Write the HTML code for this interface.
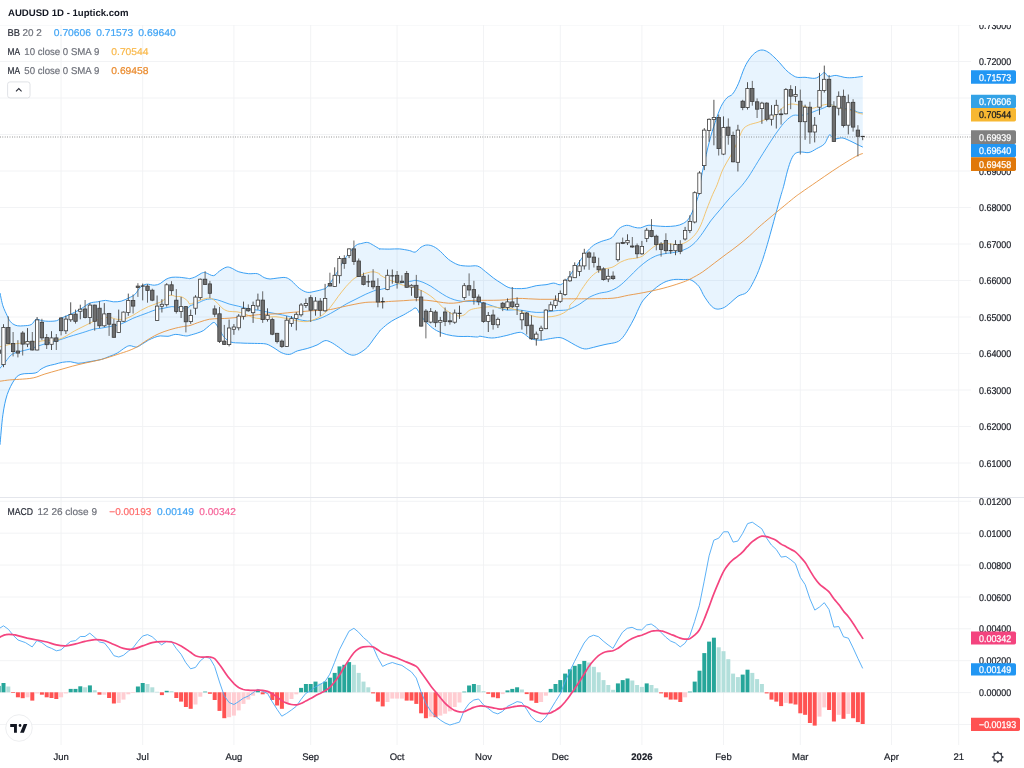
<!DOCTYPE html>
<html><head><meta charset="utf-8"><title>AUDUSD 1D - 1uptick.com</title>
<style>html,body{margin:0;padding:0;background:#fff;width:1024px;height:768px;overflow:hidden}svg{display:block}</style></head>
<body>
<svg width="1024" height="768" viewBox="0 0 1024 768" font-family='"Liberation Sans", "DejaVu Sans", sans-serif' font-size="9.8" text-rendering="geometricPrecision">
<rect width="1024" height="768" fill="#fff"/>
<g stroke="#f1f2f4" stroke-width="0.9" fill="none">
<line x1="61.1" y1="25" x2="61.1" y2="745"/>
<line x1="142.7" y1="25" x2="142.7" y2="745"/>
<line x1="233.9" y1="25" x2="233.9" y2="745"/>
<line x1="310.7" y1="25" x2="310.7" y2="745"/>
<line x1="397.1" y1="25" x2="397.1" y2="745"/>
<line x1="483.5" y1="25" x2="483.5" y2="745"/>
<line x1="560.3" y1="25" x2="560.3" y2="745"/>
<line x1="641.9" y1="25" x2="641.9" y2="745"/>
<line x1="723.5" y1="25" x2="723.5" y2="745"/>
<line x1="800.3" y1="25" x2="800.3" y2="745"/>
<line x1="891.5" y1="25" x2="891.5" y2="745"/>
<line x1="958.7" y1="25" x2="958.7" y2="745"/>
<line x1="0" y1="463.0" x2="971" y2="463.0"/>
<line x1="0" y1="426.5" x2="971" y2="426.5"/>
<line x1="0" y1="390.0" x2="971" y2="390.0"/>
<line x1="0" y1="353.5" x2="971" y2="353.5"/>
<line x1="0" y1="317.0" x2="971" y2="317.0"/>
<line x1="0" y1="280.5" x2="971" y2="280.5"/>
<line x1="0" y1="244.0" x2="971" y2="244.0"/>
<line x1="0" y1="207.5" x2="971" y2="207.5"/>
<line x1="0" y1="171.0" x2="971" y2="171.0"/>
<line x1="0" y1="134.5" x2="971" y2="134.5"/>
<line x1="0" y1="98.0" x2="971" y2="98.0"/>
<line x1="0" y1="61.5" x2="971" y2="61.5"/>
<line x1="0" y1="25.0" x2="971" y2="25.0"/>
<line x1="0" y1="724.5" x2="971" y2="724.5"/>
<line x1="0" y1="692.6" x2="971" y2="692.6"/>
<line x1="0" y1="660.7" x2="971" y2="660.7"/>
<line x1="0" y1="628.8" x2="971" y2="628.8"/>
<line x1="0" y1="597.0" x2="971" y2="597.0"/>
<line x1="0" y1="565.1" x2="971" y2="565.1"/>
<line x1="0" y1="533.2" x2="971" y2="533.2"/>
<line x1="0" y1="501.3" x2="971" y2="501.3"/>
</g>
<clipPath id="mp"><rect x="0" y="25" width="971" height="472"/></clipPath>
<clipPath id="sp"><rect x="0" y="498" width="971" height="247"/></clipPath>
<g clip-path="url(#mp)">
<path d="M0.0,293.0 C0.5,295.1 1.7,302.0 2.9,305.8 C4.1,309.6 6.2,313.5 7.2,315.8 C8.2,318.1 7.9,318.0 8.8,319.3 C9.7,320.7 11.2,322.8 12.7,323.8 C14.2,324.9 15.8,325.5 17.6,325.8 C19.4,326.1 21.2,326.0 23.4,325.8 C25.7,325.6 29.1,325.7 31.2,324.6 C33.4,323.5 34.3,320.0 36.1,319.3 C37.9,318.7 39.9,320.4 42.0,320.7 C44.1,321.0 46.4,321.3 48.8,321.3 C51.3,321.3 54.7,321.2 56.6,320.7 C58.6,320.2 58.9,319.1 60.5,318.4 C62.2,317.6 64.1,317.0 66.4,316.0 C68.7,315.0 71.6,313.8 74.2,312.5 C76.8,311.2 79.4,309.8 82.0,308.2 C84.6,306.6 87.2,304.2 89.8,303.1 C92.4,302.1 95.1,302.2 97.7,301.8 C100.3,301.3 102.9,300.4 105.5,300.4 C108.1,300.4 110.7,301.6 113.3,301.8 C115.9,301.9 118.5,301.8 121.1,301.2 C123.7,300.5 126.6,299.0 128.9,297.9 C131.2,296.7 132.8,296.3 134.8,294.5 C136.7,292.7 138.7,288.8 140.6,287.1 C142.6,285.4 144.2,284.5 146.5,284.2 C148.8,283.9 152.0,285.3 154.3,285.2 C156.6,285.1 158.2,284.6 160.2,283.6 C162.1,282.6 164.1,280.3 166.0,279.3 C168.0,278.3 169.6,277.7 171.9,277.3 C174.2,277.0 177.1,277.2 179.7,277.3 C182.3,277.5 185.8,278.1 187.5,278.3 C189.2,278.5 188.6,278.9 190.0,278.6 C191.4,278.3 193.9,277.6 195.9,276.6 C197.8,275.7 200.1,273.8 201.7,273.1 C203.3,272.5 203.7,272.3 205.6,272.7 C207.6,273.2 211.2,275.9 213.4,275.7 C215.7,275.4 217.2,272.6 219.3,271.2 C221.4,269.8 224.2,267.8 226.1,267.3 C228.1,266.7 228.9,267.1 231.0,267.9 C233.1,268.6 235.9,270.8 238.8,271.8 C241.8,272.7 245.5,273.4 248.6,273.7 C251.7,274.0 254.8,273.1 257.4,273.7 C260.0,274.4 262.1,276.7 264.2,277.6 C266.3,278.5 267.8,278.9 270.1,279.0 C272.4,279.0 275.3,278.2 277.9,278.0 C280.5,277.8 283.4,277.1 285.7,277.6 C288.0,278.1 289.3,279.1 291.6,280.9 C293.8,282.7 296.8,286.5 299.4,288.4 C302.0,290.2 304.6,291.8 307.2,292.3 C309.8,292.8 312.4,291.8 315.0,291.3 C317.6,290.8 320.9,290.0 322.8,289.3 C324.8,288.7 324.8,289.5 326.7,287.4 C328.7,285.3 331.9,280.7 334.5,276.6 C337.1,272.6 340.1,266.7 342.3,263.0 C344.6,259.2 345.9,257.1 348.2,254.2 C350.5,251.2 353.7,247.2 356.0,245.4 C358.3,243.6 359.9,243.9 361.9,243.4 C363.8,242.9 365.8,242.1 367.7,242.5 C369.7,242.8 371.6,244.3 373.6,245.4 C375.5,246.5 378.4,248.3 379.5,248.9 C380.5,249.5 378.3,248.9 380.0,248.9 C381.7,249.0 386.5,249.1 389.8,249.1 C393.0,249.1 396.3,248.7 399.5,248.9 C402.8,249.2 406.7,250.0 409.3,250.5 C411.9,251.0 413.2,252.6 415.2,252.1 C417.1,251.5 419.1,248.4 421.0,247.2 C423.0,246.0 424.8,245.1 426.9,245.0 C429.0,244.9 431.4,245.5 433.7,246.6 C436.0,247.7 438.1,249.4 440.5,251.5 C443.0,253.6 445.4,257.1 448.4,259.3 C451.3,261.5 454.9,263.6 458.1,264.8 C461.4,265.9 464.6,265.9 467.9,266.1 C471.1,266.4 474.7,265.2 477.7,266.1 C480.6,267.0 482.9,269.6 485.5,271.6 C488.1,273.6 490.7,275.9 493.3,277.9 C495.9,279.8 498.5,281.5 501.1,283.1 C503.7,284.8 506.3,286.7 508.9,287.6 C511.5,288.5 513.8,288.5 516.7,288.6 C519.6,288.7 523.2,288.7 526.5,288.2 C529.7,287.7 533.0,286.2 536.2,285.7 C539.5,285.1 543.1,285.1 546.0,284.7 C548.9,284.3 551.4,283.1 553.8,283.1 C556.3,283.1 558.4,285.4 560.7,284.7 C562.9,284.0 565.9,280.4 567.5,278.8 C569.1,277.3 568.3,277.8 570.0,275.3 C571.7,272.8 575.2,267.7 577.8,264.0 C580.4,260.3 583.0,256.3 585.6,253.2 C588.2,250.1 590.8,247.4 593.4,245.4 C596.0,243.5 598.2,242.8 601.2,241.5 C604.3,240.2 609.1,239.7 612.0,237.6 C614.9,235.5 616.4,230.9 618.8,228.8 C621.3,226.8 624.0,225.6 626.6,225.3 C629.2,225.1 632.2,226.8 634.5,227.3 C636.7,227.7 638.0,228.2 640.3,227.9 C642.6,227.5 645.5,225.6 648.1,225.3 C650.7,225.0 653.0,225.7 655.9,225.9 C658.9,226.1 662.4,226.5 665.7,226.5 C669.0,226.5 672.5,226.4 675.5,225.9 C678.4,225.4 681.0,224.7 683.3,223.4 C685.6,222.1 687.2,221.1 689.1,218.1 C691.1,215.1 693.4,209.5 695.0,205.4 C696.6,201.3 698.2,196.8 698.9,193.7 C699.7,190.6 698.8,191.1 699.5,186.7 C700.3,182.3 701.8,174.7 703.4,167.2 C705.1,159.7 707.3,149.3 709.3,141.8 C711.2,134.3 713.2,128.1 715.2,122.3 C717.1,116.4 719.1,110.7 721.0,106.6 C723.0,102.6 724.9,100.0 726.9,97.9 C728.8,95.7 730.8,96.4 732.7,93.9 C734.7,91.5 736.6,87.6 738.6,83.2 C740.5,78.8 742.5,71.8 744.5,67.6 C746.4,63.3 748.4,60.4 750.3,57.8 C752.3,55.2 754.2,53.3 756.2,52.0 C758.1,50.7 760.1,50.0 762.0,50.0 C764.0,50.0 765.9,50.8 767.9,52.0 C769.8,53.1 771.8,55.0 773.8,56.8 C775.7,58.6 777.7,60.6 779.6,62.7 C781.6,64.8 783.5,67.6 785.5,69.5 C787.4,71.5 789.4,73.1 791.3,74.4 C793.3,75.7 794.9,76.9 797.2,77.3 C799.5,77.8 802.1,77.2 805.0,77.3 C807.9,77.5 812.2,78.6 814.8,78.3 C817.4,78.0 819.0,76.4 820.6,75.4 C822.3,74.4 823.2,72.3 824.5,72.5 C825.8,72.6 826.5,75.9 828.4,76.4 C830.4,76.9 833.6,75.2 836.2,75.4 C838.9,75.6 841.5,77.0 844.1,77.3 C846.7,77.7 848.8,77.9 851.9,77.7 C855.0,77.6 861.0,76.6 862.8,76.4 L862.8,147.1 L857.7,144.7 L849.9,140.8 L842.1,137.9 L834.3,138.9 L829.4,135.0 L824.5,143.8 L816.7,148.6 L808.9,152.5 L801.1,152.0 L795.2,153.5 L791.3,159.4 L787.4,171.1 L783.5,186.7 L779.6,200.0 L767.3,244.5 L760.4,265.9 L753.6,281.6 L746.8,292.3 L738.0,296.2 L730.2,303.0 L722.3,308.3 L713.6,307.9 L704.8,297.2 L698.9,286.4 L691.1,280.0 L683.3,279.6 L673.5,279.6 L663.8,282.5 L654.0,289.4 L644.2,299.1 L640.2,305.4 L634.3,318.1 L628.4,328.8 L622.6,337.6 L616.7,342.1 L605.0,344.5 L593.3,347.4 L584.5,348.9 L575.7,345.4 L567.9,340.9 L560.1,337.6 L550.3,338.6 L540.5,340.2 L530.8,338.6 L523.0,333.1 L517.1,332.7 L503.4,336.2 L491.7,338.0 L480.0,336.2 L477.7,337.0 L467.9,336.4 L458.1,336.4 L446.4,334.5 L436.6,330.6 L428.8,324.7 L421.0,315.9 L416.1,308.1 L411.2,310.5 L403.4,315.0 L395.6,318.9 L387.8,323.8 L380.0,330.6 L379.5,331.3 L373.6,339.1 L367.7,347.0 L359.9,352.8 L353.1,355.2 L346.2,352.8 L338.4,347.0 L330.6,342.1 L324.8,340.7 L317.0,345.0 L307.2,348.5 L297.4,350.9 L289.6,354.4 L281.8,352.8 L274.0,347.9 L266.2,344.0 L254.5,343.4 L240.8,343.0 L231.0,342.1 L224.2,337.2 L219.3,329.4 L214.4,322.5 L209.5,325.5 L203.7,330.4 L197.8,332.9 L190.0,335.2 L185.5,335.9 L175.8,334.4 L168.0,336.3 L160.2,335.9 L154.3,337.5 L148.4,340.2 L142.6,343.8 L136.7,347.1 L129.9,345.7 L125.0,347.7 L117.2,353.1 L109.4,356.4 L101.6,359.4 L93.8,360.9 L85.9,362.3 L78.1,363.3 L70.3,361.7 L62.5,362.3 L54.7,364.3 L46.9,366.2 L41.0,369.1 L35.2,373.0 L21.0,374.3 L14.3,380.0 L7.2,394.6 L2.9,414.7 L0.0,444.8 Z" fill="#2196f3" fill-opacity="0.1" stroke="none"/>
<path d="M0.0,293.0 C0.5,295.1 1.7,302.0 2.9,305.8 C4.1,309.6 6.2,313.5 7.2,315.8 C8.2,318.1 7.9,318.0 8.8,319.3 C9.7,320.7 11.2,322.8 12.7,323.8 C14.2,324.9 15.8,325.5 17.6,325.8 C19.4,326.1 21.2,326.0 23.4,325.8 C25.7,325.6 29.1,325.7 31.2,324.6 C33.4,323.5 34.3,320.0 36.1,319.3 C37.9,318.7 39.9,320.4 42.0,320.7 C44.1,321.0 46.4,321.3 48.8,321.3 C51.3,321.3 54.7,321.2 56.6,320.7 C58.6,320.2 58.9,319.1 60.5,318.4 C62.2,317.6 64.1,317.0 66.4,316.0 C68.7,315.0 71.6,313.8 74.2,312.5 C76.8,311.2 79.4,309.8 82.0,308.2 C84.6,306.6 87.2,304.2 89.8,303.1 C92.4,302.1 95.1,302.2 97.7,301.8 C100.3,301.3 102.9,300.4 105.5,300.4 C108.1,300.4 110.7,301.6 113.3,301.8 C115.9,301.9 118.5,301.8 121.1,301.2 C123.7,300.5 126.6,299.0 128.9,297.9 C131.2,296.7 132.8,296.3 134.8,294.5 C136.7,292.7 138.7,288.8 140.6,287.1 C142.6,285.4 144.2,284.5 146.5,284.2 C148.8,283.9 152.0,285.3 154.3,285.2 C156.6,285.1 158.2,284.6 160.2,283.6 C162.1,282.6 164.1,280.3 166.0,279.3 C168.0,278.3 169.6,277.7 171.9,277.3 C174.2,277.0 177.1,277.2 179.7,277.3 C182.3,277.5 185.8,278.1 187.5,278.3 C189.2,278.5 188.6,278.9 190.0,278.6 C191.4,278.3 193.9,277.6 195.9,276.6 C197.8,275.7 200.1,273.8 201.7,273.1 C203.3,272.5 203.7,272.3 205.6,272.7 C207.6,273.2 211.2,275.9 213.4,275.7 C215.7,275.4 217.2,272.6 219.3,271.2 C221.4,269.8 224.2,267.8 226.1,267.3 C228.1,266.7 228.9,267.1 231.0,267.9 C233.1,268.6 235.9,270.8 238.8,271.8 C241.8,272.7 245.5,273.4 248.6,273.7 C251.7,274.0 254.8,273.1 257.4,273.7 C260.0,274.4 262.1,276.7 264.2,277.6 C266.3,278.5 267.8,278.9 270.1,279.0 C272.4,279.0 275.3,278.2 277.9,278.0 C280.5,277.8 283.4,277.1 285.7,277.6 C288.0,278.1 289.3,279.1 291.6,280.9 C293.8,282.7 296.8,286.5 299.4,288.4 C302.0,290.2 304.6,291.8 307.2,292.3 C309.8,292.8 312.4,291.8 315.0,291.3 C317.6,290.8 320.9,290.0 322.8,289.3 C324.8,288.7 324.8,289.5 326.7,287.4 C328.7,285.3 331.9,280.7 334.5,276.6 C337.1,272.6 340.1,266.7 342.3,263.0 C344.6,259.2 345.9,257.1 348.2,254.2 C350.5,251.2 353.7,247.2 356.0,245.4 C358.3,243.6 359.9,243.9 361.9,243.4 C363.8,242.9 365.8,242.1 367.7,242.5 C369.7,242.8 371.6,244.3 373.6,245.4 C375.5,246.5 378.4,248.3 379.5,248.9 C380.5,249.5 378.3,248.9 380.0,248.9 C381.7,249.0 386.5,249.1 389.8,249.1 C393.0,249.1 396.3,248.7 399.5,248.9 C402.8,249.2 406.7,250.0 409.3,250.5 C411.9,251.0 413.2,252.6 415.2,252.1 C417.1,251.5 419.1,248.4 421.0,247.2 C423.0,246.0 424.8,245.1 426.9,245.0 C429.0,244.9 431.4,245.5 433.7,246.6 C436.0,247.7 438.1,249.4 440.5,251.5 C443.0,253.6 445.4,257.1 448.4,259.3 C451.3,261.5 454.9,263.6 458.1,264.8 C461.4,265.9 464.6,265.9 467.9,266.1 C471.1,266.4 474.7,265.2 477.7,266.1 C480.6,267.0 482.9,269.6 485.5,271.6 C488.1,273.6 490.7,275.9 493.3,277.9 C495.9,279.8 498.5,281.5 501.1,283.1 C503.7,284.8 506.3,286.7 508.9,287.6 C511.5,288.5 513.8,288.5 516.7,288.6 C519.6,288.7 523.2,288.7 526.5,288.2 C529.7,287.7 533.0,286.2 536.2,285.7 C539.5,285.1 543.1,285.1 546.0,284.7 C548.9,284.3 551.4,283.1 553.8,283.1 C556.3,283.1 558.4,285.4 560.7,284.7 C562.9,284.0 565.9,280.4 567.5,278.8 C569.1,277.3 568.3,277.8 570.0,275.3 C571.7,272.8 575.2,267.7 577.8,264.0 C580.4,260.3 583.0,256.3 585.6,253.2 C588.2,250.1 590.8,247.4 593.4,245.4 C596.0,243.5 598.2,242.8 601.2,241.5 C604.3,240.2 609.1,239.7 612.0,237.6 C614.9,235.5 616.4,230.9 618.8,228.8 C621.3,226.8 624.0,225.6 626.6,225.3 C629.2,225.1 632.2,226.8 634.5,227.3 C636.7,227.7 638.0,228.2 640.3,227.9 C642.6,227.5 645.5,225.6 648.1,225.3 C650.7,225.0 653.0,225.7 655.9,225.9 C658.9,226.1 662.4,226.5 665.7,226.5 C669.0,226.5 672.5,226.4 675.5,225.9 C678.4,225.4 681.0,224.7 683.3,223.4 C685.6,222.1 687.2,221.1 689.1,218.1 C691.1,215.1 693.4,209.5 695.0,205.4 C696.6,201.3 698.2,196.8 698.9,193.7 C699.7,190.6 698.8,191.1 699.5,186.7 C700.3,182.3 701.8,174.7 703.4,167.2 C705.1,159.7 707.3,149.3 709.3,141.8 C711.2,134.3 713.2,128.1 715.2,122.3 C717.1,116.4 719.1,110.7 721.0,106.6 C723.0,102.6 724.9,100.0 726.9,97.9 C728.8,95.7 730.8,96.4 732.7,93.9 C734.7,91.5 736.6,87.6 738.6,83.2 C740.5,78.8 742.5,71.8 744.5,67.6 C746.4,63.3 748.4,60.4 750.3,57.8 C752.3,55.2 754.2,53.3 756.2,52.0 C758.1,50.7 760.1,50.0 762.0,50.0 C764.0,50.0 765.9,50.8 767.9,52.0 C769.8,53.1 771.8,55.0 773.8,56.8 C775.7,58.6 777.7,60.6 779.6,62.7 C781.6,64.8 783.5,67.6 785.5,69.5 C787.4,71.5 789.4,73.1 791.3,74.4 C793.3,75.7 794.9,76.9 797.2,77.3 C799.5,77.8 802.1,77.2 805.0,77.3 C807.9,77.5 812.2,78.6 814.8,78.3 C817.4,78.0 819.0,76.4 820.6,75.4 C822.3,74.4 823.2,72.3 824.5,72.5 C825.8,72.6 826.5,75.9 828.4,76.4 C830.4,76.9 833.6,75.2 836.2,75.4 C838.9,75.6 841.5,77.0 844.1,77.3 C846.7,77.7 848.8,77.9 851.9,77.7 C855.0,77.6 861.0,76.6 862.8,76.4" fill="none" stroke="#3aa0f4" stroke-width="1"/>
<path d="M0.0,444.8 C0.5,439.8 1.7,423.1 2.9,414.7 C4.1,406.3 5.3,400.4 7.2,394.6 C9.1,388.8 12.0,383.4 14.3,380.0 C16.6,376.6 17.5,375.5 21.0,374.3 C24.5,373.1 31.8,373.9 35.2,373.0 C38.5,372.2 39.1,370.3 41.0,369.1 C43.0,368.0 44.6,367.0 46.9,366.2 C49.2,365.4 52.1,364.9 54.7,364.3 C57.3,363.6 59.9,362.7 62.5,362.3 C65.1,361.9 67.7,361.6 70.3,361.7 C72.9,361.9 75.5,363.2 78.1,363.3 C80.7,363.4 83.3,362.7 85.9,362.3 C88.5,361.9 91.1,361.4 93.8,360.9 C96.4,360.4 99.0,360.1 101.6,359.4 C104.2,358.6 106.8,357.5 109.4,356.4 C112.0,355.4 114.6,354.6 117.2,353.1 C119.8,351.7 122.9,348.9 125.0,347.7 C127.1,346.4 127.9,345.8 129.9,345.7 C131.8,345.6 134.6,347.4 136.7,347.1 C138.8,346.7 140.6,344.9 142.6,343.8 C144.5,342.6 146.5,341.3 148.4,340.2 C150.4,339.2 152.3,338.2 154.3,337.5 C156.2,336.8 157.9,336.1 160.2,335.9 C162.4,335.7 165.4,336.6 168.0,336.3 C170.6,336.1 172.9,334.4 175.8,334.4 C178.7,334.3 183.2,335.8 185.5,335.9 C187.9,336.1 188.0,335.7 190.0,335.2 C192.0,334.7 195.5,333.7 197.8,332.9 C200.1,332.1 201.7,331.6 203.7,330.4 C205.6,329.1 207.7,326.8 209.5,325.5 C211.3,324.2 212.8,321.9 214.4,322.5 C216.0,323.2 217.7,326.9 219.3,329.4 C220.9,331.8 222.2,335.1 224.2,337.2 C226.1,339.3 228.2,341.1 231.0,342.1 C233.8,343.0 236.9,342.8 240.8,343.0 C244.7,343.3 250.2,343.3 254.5,343.4 C258.7,343.6 262.9,343.3 266.2,344.0 C269.4,344.8 271.4,346.5 274.0,347.9 C276.6,349.4 279.2,351.7 281.8,352.8 C284.4,353.9 287.0,354.7 289.6,354.4 C292.2,354.0 294.5,351.8 297.4,350.9 C300.4,349.9 303.9,349.5 307.2,348.5 C310.4,347.5 314.0,346.3 317.0,345.0 C319.9,343.7 322.5,341.2 324.8,340.7 C327.0,340.2 328.3,341.0 330.6,342.1 C332.9,343.1 335.8,345.2 338.4,347.0 C341.0,348.7 343.8,351.4 346.2,352.8 C348.7,354.2 350.8,355.2 353.1,355.2 C355.4,355.2 357.5,354.2 359.9,352.8 C362.4,351.4 365.5,349.2 367.7,347.0 C370.0,344.7 371.6,341.7 373.6,339.1 C375.5,336.5 378.4,332.8 379.5,331.3 C380.5,329.9 378.6,331.8 380.0,330.6 C381.4,329.3 385.2,325.7 387.8,323.8 C390.4,321.8 393.0,320.3 395.6,318.9 C398.2,317.4 400.8,316.4 403.4,315.0 C406.0,313.6 409.1,311.6 411.2,310.5 C413.4,309.3 414.5,307.2 416.1,308.1 C417.8,309.0 418.9,313.2 421.0,315.9 C423.1,318.7 426.2,322.3 428.8,324.7 C431.4,327.2 433.7,329.0 436.6,330.6 C439.6,332.2 442.8,333.5 446.4,334.5 C450.0,335.5 454.5,336.1 458.1,336.4 C461.7,336.8 464.6,336.3 467.9,336.4 C471.1,336.5 475.6,337.1 477.7,337.0 C479.7,337.0 477.7,336.1 480.0,336.2 C482.3,336.4 487.8,338.0 491.7,338.0 C495.6,338.0 499.2,337.1 503.4,336.2 C507.7,335.4 513.9,333.3 517.1,332.7 C520.4,332.2 520.7,332.1 523.0,333.1 C525.2,334.1 527.9,337.4 530.8,338.6 C533.7,339.8 537.3,340.2 540.5,340.2 C543.8,340.2 547.1,339.0 550.3,338.6 C553.6,338.2 557.1,337.2 560.1,337.6 C563.0,338.0 565.3,339.6 567.9,340.9 C570.5,342.2 572.9,344.1 575.7,345.4 C578.5,346.8 581.6,348.6 584.5,348.9 C587.4,349.3 589.9,348.1 593.3,347.4 C596.7,346.6 601.1,345.3 605.0,344.5 C608.9,343.6 613.8,343.2 616.7,342.1 C619.6,341.0 620.6,339.8 622.6,337.6 C624.5,335.4 626.5,332.1 628.4,328.8 C630.4,325.6 632.3,322.0 634.3,318.1 C636.2,314.2 638.5,308.5 640.2,305.4 C641.8,302.2 641.9,301.8 644.2,299.1 C646.5,296.5 650.7,292.1 654.0,289.4 C657.2,286.6 660.5,284.2 663.8,282.5 C667.0,280.9 670.3,280.1 673.5,279.6 C676.8,279.1 680.4,279.5 683.3,279.6 C686.2,279.7 688.5,278.9 691.1,280.0 C693.7,281.1 696.6,283.6 698.9,286.4 C701.2,289.3 702.3,293.6 704.8,297.2 C707.2,300.8 710.6,306.1 713.6,307.9 C716.5,309.8 719.6,309.1 722.3,308.3 C725.1,307.5 727.6,305.1 730.2,303.0 C732.8,301.0 735.2,298.0 738.0,296.2 C740.7,294.4 744.2,294.7 746.8,292.3 C749.4,289.9 751.3,286.0 753.6,281.6 C755.9,277.2 758.2,272.1 760.4,265.9 C762.7,259.8 764.1,255.4 767.3,244.5 C770.5,233.5 776.9,209.6 779.6,200.0 C782.3,190.4 782.2,191.5 783.5,186.7 C784.8,181.9 786.1,175.7 787.4,171.1 C788.7,166.5 790.0,162.3 791.3,159.4 C792.6,156.4 793.6,154.8 795.2,153.5 C796.9,152.3 798.8,152.1 801.1,152.0 C803.4,151.8 806.3,153.1 808.9,152.5 C811.5,152.0 814.1,150.1 816.7,148.6 C819.3,147.2 822.4,146.0 824.5,143.8 C826.6,141.5 827.8,135.8 829.4,135.0 C831.0,134.1 832.2,138.4 834.3,138.9 C836.4,139.4 839.5,137.6 842.1,137.9 C844.7,138.2 847.3,139.7 849.9,140.8 C852.5,142.0 855.6,143.7 857.7,144.7 C859.9,145.8 862.0,146.7 862.8,147.1" fill="none" stroke="#3aa0f4" stroke-width="1"/>
<path d="M-2.0,370.1 C-1.6,369.8 -1.3,369.6 0.0,368.2 C1.3,366.7 3.9,363.6 5.9,361.3 C7.8,359.0 9.4,356.1 11.7,354.5 C14.0,352.9 16.6,352.4 19.5,351.6 C22.5,350.7 26.0,350.2 29.3,349.2 C32.6,348.2 35.8,346.8 39.1,345.7 C42.3,344.6 45.6,343.7 48.8,342.8 C52.1,341.9 55.3,341.2 58.6,340.2 C61.8,339.3 65.1,338.0 68.4,336.9 C71.6,335.9 75.2,334.9 78.1,334.0 C81.1,333.1 83.3,332.5 85.9,331.6 C88.5,330.8 91.1,329.7 93.8,329.1 C96.4,328.5 99.0,328.5 101.6,328.1 C104.2,327.7 106.8,327.1 109.4,326.6 C112.0,326.1 114.6,325.9 117.2,325.2 C119.8,324.5 122.4,323.4 125.0,322.3 C127.6,321.1 130.2,319.5 132.8,318.4 C135.4,317.2 138.0,316.4 140.6,315.4 C143.2,314.5 145.8,313.5 148.4,312.5 C151.0,311.5 153.6,310.3 156.2,309.6 C158.9,308.9 161.5,308.7 164.1,308.2 C166.7,307.7 169.3,306.7 171.9,306.6 C174.5,306.5 177.1,307.4 179.7,307.6 C182.3,307.9 185.8,308.5 187.5,308.2 C189.2,307.9 188.3,306.8 190.0,305.9 C191.7,305.1 195.2,304.0 197.8,303.0 C200.4,302.0 203.0,300.3 205.6,299.7 C208.2,299.0 210.8,298.9 213.4,299.1 C216.0,299.3 218.6,300.2 221.2,301.1 C223.9,301.9 226.1,303.1 229.1,304.0 C232.0,304.9 235.6,305.5 238.8,306.3 C242.1,307.1 245.3,308.2 248.6,308.9 C251.8,309.5 255.1,309.7 258.4,310.2 C261.6,310.8 264.9,311.5 268.1,312.2 C271.4,312.8 274.6,313.5 277.9,314.1 C281.1,314.8 284.4,315.2 287.7,316.1 C290.9,316.9 294.2,318.4 297.4,319.2 C300.7,320.0 304.3,320.8 307.2,321.0 C310.1,321.1 312.4,320.6 315.0,320.0 C317.6,319.4 320.2,318.4 322.8,317.3 C325.4,316.2 328.0,314.8 330.6,313.4 C333.2,312.0 335.8,310.4 338.4,308.9 C341.0,307.3 343.3,305.6 346.2,304.0 C349.2,302.4 352.8,300.7 356.0,299.1 C359.3,297.5 362.5,295.7 365.8,294.2 C369.0,292.8 373.2,291.1 375.5,290.3 C377.9,289.5 378.0,290.0 380.0,289.6 C382.0,289.1 385.2,288.4 387.8,287.6 C390.4,286.8 393.0,285.6 395.6,284.7 C398.2,283.8 400.8,282.9 403.4,282.3 C406.0,281.8 409.1,281.5 411.2,281.2 C413.4,280.8 414.2,280.2 416.1,280.4 C418.1,280.6 420.5,281.4 423.0,282.3 C425.4,283.3 428.2,284.7 430.8,286.2 C433.4,287.8 436.0,289.8 438.6,291.5 C441.2,293.2 443.8,295.0 446.4,296.4 C449.0,297.8 451.6,298.9 454.2,299.7 C456.8,300.5 459.1,301.0 462.0,301.3 C465.0,301.5 468.9,301.1 471.8,301.3 C474.7,301.5 477.0,301.8 479.6,302.3 C482.2,302.8 484.5,303.3 487.4,304.2 C490.4,305.1 493.9,306.6 497.2,307.5 C500.4,308.5 503.7,309.7 507.0,310.1 C510.2,310.4 513.5,309.5 516.7,309.7 C520.0,309.9 523.2,310.6 526.5,311.1 C529.7,311.5 533.0,312.3 536.2,312.4 C539.5,312.6 542.8,312.3 546.0,312.0 C549.3,311.7 552.5,311.0 555.8,310.7 C559.0,310.3 563.2,310.4 565.5,310.1 C567.9,309.8 567.6,309.9 570.0,308.9 C572.4,307.9 576.5,306.0 579.8,304.0 C583.0,302.1 586.3,299.0 589.5,297.2 C592.8,295.4 596.0,294.3 599.3,293.3 C602.6,292.3 605.8,292.5 609.1,291.3 C612.3,290.2 615.6,288.7 618.8,286.4 C622.1,284.2 625.3,280.7 628.6,277.7 C631.8,274.6 635.1,270.8 638.4,267.9 C641.6,265.0 644.9,262.2 648.1,260.1 C651.4,258.0 654.6,256.3 657.9,255.2 C661.1,254.1 664.4,253.8 667.7,253.2 C670.9,252.7 674.2,252.7 677.4,251.9 C680.7,251.1 684.3,249.9 687.2,248.4 C690.1,246.8 692.4,245.1 695.0,242.5 C697.6,239.9 700.2,236.3 702.8,232.7 C705.4,229.2 707.7,224.9 710.6,221.0 C713.6,217.1 717.1,213.2 720.4,209.3 C723.6,205.4 726.9,201.2 730.2,197.6 C733.4,194.0 736.9,191.2 739.9,187.8 C743.0,184.4 745.3,181.4 748.4,177.0 C751.4,172.5 754.9,166.5 758.1,161.3 C761.4,156.1 764.6,150.7 767.9,145.7 C771.1,140.7 774.7,135.1 777.7,131.1 C780.6,127.0 782.9,123.9 785.5,121.3 C788.1,118.7 790.7,116.4 793.3,115.4 C795.9,114.5 798.5,115.8 801.1,115.4 C803.7,115.1 806.3,114.3 808.9,113.5 C811.5,112.7 814.1,111.5 816.7,110.5 C819.3,109.6 822.3,108.6 824.5,107.6 C826.8,106.6 828.4,104.9 830.4,104.7 C832.3,104.5 834.0,106.0 836.2,106.6 C838.5,107.3 841.5,108.1 844.1,108.6 C846.7,109.1 849.6,109.0 851.9,109.6 C854.2,110.2 855.9,111.6 857.7,112.1 C859.6,112.7 862.0,112.8 862.8,112.9" fill="none" stroke="#3aa0f4" stroke-width="0.9"/>
<path d="M-2.0,347.1 C-1.6,347.0 -1.3,347.0 0.0,346.7 C1.3,346.4 3.9,345.7 5.9,345.3 C7.8,344.9 9.4,344.5 11.7,344.1 C14.0,343.8 16.9,343.7 19.5,343.4 C22.1,343.0 24.7,342.4 27.3,342.2 C29.9,341.9 32.6,342.0 35.2,341.8 C37.8,341.6 40.4,341.1 43.0,340.8 C45.6,340.6 48.2,340.5 50.8,340.2 C53.4,340.0 56.0,340.2 58.6,339.5 C61.2,338.7 63.8,337.3 66.4,335.9 C69.0,334.5 71.6,332.5 74.2,331.1 C76.8,329.6 79.8,328.3 82.0,327.1 C84.3,326.0 85.9,325.2 87.9,324.2 C89.8,323.2 91.5,322.3 93.8,321.3 C96.0,320.3 99.0,319.0 101.6,318.4 C104.2,317.7 106.8,317.2 109.4,317.4 C112.0,317.5 114.6,319.1 117.2,319.3 C119.8,319.6 122.4,319.4 125.0,318.8 C127.6,318.1 130.2,316.8 132.8,315.4 C135.4,314.1 138.0,312.0 140.6,310.5 C143.2,309.1 145.8,307.8 148.4,306.6 C151.0,305.5 154.0,304.6 156.2,303.7 C158.5,302.8 159.8,302.6 162.1,301.2 C164.4,299.8 167.6,296.1 169.9,295.3 C172.2,294.5 173.8,296.2 175.8,296.5 C177.7,296.7 179.7,296.2 181.6,296.9 C183.6,297.6 186.1,299.6 187.5,300.8 C188.9,302.0 188.3,303.9 190.0,304.0 C191.7,304.0 195.2,302.0 197.8,301.1 C200.4,300.1 203.3,298.9 205.6,298.5 C207.9,298.1 209.5,297.8 211.5,298.5 C213.4,299.3 215.4,301.3 217.3,303.0 C219.3,304.7 221.2,307.5 223.2,308.9 C225.2,310.3 226.8,310.9 229.1,311.4 C231.3,311.9 234.3,311.4 236.9,311.8 C239.5,312.2 242.1,312.8 244.7,313.8 C247.3,314.7 249.9,316.5 252.5,317.3 C255.1,318.1 257.7,318.6 260.3,318.6 C262.9,318.6 265.5,317.6 268.1,317.3 C270.7,316.9 273.3,316.5 275.9,316.7 C278.5,316.8 281.1,317.6 283.8,318.0 C286.4,318.5 289.0,319.1 291.6,319.6 C294.2,320.1 296.8,320.8 299.4,321.2 C302.0,321.5 304.6,321.9 307.2,321.6 C309.8,321.2 312.4,320.4 315.0,319.2 C317.6,318.1 320.2,316.8 322.8,314.7 C325.4,312.7 328.0,310.0 330.6,306.9 C333.2,303.8 335.8,299.6 338.4,296.2 C341.0,292.8 343.6,289.3 346.2,286.4 C348.9,283.5 351.5,280.5 354.1,278.6 C356.7,276.6 359.6,275.7 361.9,274.7 C364.2,273.7 365.8,273.2 367.7,272.7 C369.7,272.2 371.6,271.6 373.6,271.8 C375.5,271.9 378.4,273.2 379.5,273.7 C380.5,274.2 378.6,274.0 380.0,274.9 C381.4,275.8 385.2,278.0 387.8,279.2 C390.4,280.5 393.0,281.3 395.6,282.3 C398.2,283.4 400.8,284.6 403.4,285.3 C406.0,286.0 408.6,285.9 411.2,286.6 C413.9,287.4 416.5,288.4 419.1,289.6 C421.7,290.7 424.3,291.8 426.9,293.5 C429.5,295.1 432.1,297.1 434.7,299.3 C437.3,301.6 439.9,304.9 442.5,307.1 C445.1,309.4 447.7,311.5 450.3,313.0 C452.9,314.5 455.8,315.6 458.1,315.9 C460.4,316.3 462.0,315.9 464.0,315.0 C465.9,314.0 467.6,311.2 469.8,310.1 C472.1,308.9 475.1,308.6 477.7,308.1 C480.3,307.6 482.9,307.4 485.5,307.1 C488.1,306.9 490.7,306.6 493.3,306.8 C495.9,306.9 498.5,307.9 501.1,308.1 C503.7,308.4 506.3,307.8 508.9,308.1 C511.5,308.5 514.1,309.3 516.7,310.1 C519.3,310.9 521.9,312.0 524.5,313.0 C527.1,314.0 529.7,315.2 532.3,315.9 C534.9,316.7 537.6,317.1 540.2,317.3 C542.8,317.5 545.4,317.1 548.0,316.9 C550.6,316.7 553.2,316.6 555.8,315.9 C558.4,315.3 561.3,314.3 563.6,313.0 C565.9,311.7 568.4,309.5 569.5,308.1 C570.5,306.8 568.9,306.5 570.0,305.0 C571.1,303.5 573.9,301.7 575.9,299.1 C577.8,296.5 579.4,292.8 581.7,289.4 C584.0,286.0 586.9,281.6 589.5,278.6 C592.1,275.7 594.7,273.4 597.3,271.8 C599.9,270.2 602.6,269.7 605.2,268.9 C607.8,268.1 610.4,268.1 613.0,266.9 C615.6,265.8 618.2,263.3 620.8,262.0 C623.4,260.7 626.0,259.8 628.6,259.1 C631.2,258.5 634.1,258.6 636.4,258.1 C638.7,257.6 640.3,257.3 642.3,256.2 C644.2,255.0 645.8,253.1 648.1,251.3 C650.4,249.5 653.3,246.7 655.9,245.4 C658.5,244.1 661.1,243.7 663.8,243.5 C666.4,243.2 669.0,243.9 671.6,244.1 C674.2,244.2 676.8,244.9 679.4,244.5 C682.0,244.0 684.6,243.2 687.2,241.5 C689.8,239.9 692.7,237.5 695.0,234.7 C697.3,231.9 698.9,229.2 700.9,224.9 C702.8,220.7 704.8,214.3 706.7,209.3 C708.7,204.3 710.8,198.7 712.6,194.6 C714.3,190.6 715.4,189.0 717.1,184.8 C718.8,180.5 720.7,174.0 723.0,169.1 C725.2,164.3 728.5,159.7 730.8,155.5 C733.1,151.2 734.7,148.0 736.6,143.8 C738.6,139.5 740.5,133.2 742.5,130.1 C744.5,127.0 745.8,126.5 748.4,125.2 C751.0,123.9 755.2,123.2 758.1,122.3 C761.1,121.3 763.3,120.3 765.9,119.3 C768.5,118.4 771.1,118.2 773.8,116.4 C776.4,114.6 779.0,110.6 781.6,108.6 C784.2,106.6 786.8,104.9 789.4,104.3 C792.0,103.6 794.6,104.3 797.2,104.7 C799.8,105.1 802.4,106.1 805.0,106.6 C807.6,107.2 810.2,108.4 812.8,108.2 C815.4,108.0 818.0,106.3 820.6,105.7 C823.2,105.0 825.8,104.1 828.4,104.3 C831.0,104.5 833.6,105.8 836.2,106.6 C838.9,107.5 841.5,108.9 844.1,109.6 C846.7,110.2 849.6,110.0 851.9,110.5 C854.2,111.1 855.9,112.3 857.7,112.9 C859.6,113.5 862.0,113.9 862.8,114.1" fill="none" stroke="#f2c063" stroke-width="0.9"/>
<path d="M-2.0,381.4 C-1.6,381.4 -2.0,381.5 0.0,381.2 C2.0,381.0 6.5,380.2 9.8,379.9 C13.0,379.6 15.6,379.6 19.5,379.3 C23.4,379.0 29.0,378.8 33.2,377.9 C37.4,377.1 40.7,375.3 44.9,374.0 C49.2,372.7 54.0,371.4 58.6,370.1 C63.2,368.8 67.7,367.4 72.3,366.2 C76.8,365.0 81.1,364.0 85.9,362.9 C90.8,361.8 96.4,360.8 101.6,359.4 C106.8,358.0 112.6,356.0 117.2,354.5 C121.7,353.0 125.7,351.8 128.9,350.6 C132.2,349.3 134.1,348.5 136.7,347.1 C139.3,345.6 141.6,343.7 144.5,341.8 C147.5,339.9 151.0,337.6 154.3,335.9 C157.6,334.2 160.5,332.9 164.1,331.6 C167.6,330.3 172.2,329.0 175.8,328.1 C179.4,327.2 183.2,326.6 185.5,326.2 C187.9,325.7 187.6,326.2 190.0,325.5 C192.4,324.8 196.5,323.0 199.8,322.0 C203.0,320.9 206.3,319.8 209.5,319.2 C212.8,318.7 216.0,318.8 219.3,318.6 C222.6,318.5 225.8,318.5 229.1,318.2 C232.3,318.0 235.6,317.7 238.8,317.3 C242.1,316.8 245.3,316.1 248.6,315.7 C251.8,315.3 255.1,315.0 258.4,314.7 C261.6,314.5 264.9,314.3 268.1,314.1 C271.4,314.0 274.6,314.0 277.9,313.8 C281.1,313.5 284.1,313.1 287.7,312.8 C291.2,312.4 295.5,312.1 299.4,311.8 C303.3,311.5 307.2,311.1 311.1,310.8 C315.0,310.6 319.6,310.5 322.8,310.2 C326.1,310.0 327.4,310.0 330.6,309.5 C333.9,308.9 338.4,307.8 342.3,306.9 C346.2,306.1 350.2,305.1 354.1,304.4 C358.0,303.6 361.9,302.8 365.8,302.4 C369.7,302.0 375.1,302.1 377.5,302.0 C379.9,302.0 377.6,302.4 380.0,302.3 C382.4,302.1 387.8,301.5 391.7,301.3 C395.6,301.0 399.5,300.9 403.4,300.7 C407.3,300.5 411.2,300.0 415.2,299.9 C419.1,299.9 423.0,300.0 426.9,300.3 C430.8,300.6 435.0,301.4 438.6,301.9 C442.2,302.4 445.1,303.1 448.4,303.2 C451.6,303.4 454.9,303.1 458.1,302.7 C461.4,302.2 464.0,301.1 467.9,300.7 C471.8,300.3 477.3,300.4 481.6,300.3 C485.8,300.2 489.4,300.4 493.3,300.3 C497.2,300.2 501.1,300.2 505.0,299.9 C508.9,299.6 512.8,298.6 516.7,298.4 C520.6,298.2 524.5,298.6 528.4,298.8 C532.3,298.9 536.2,299.2 540.2,299.3 C544.1,299.4 548.0,299.4 551.9,299.3 C555.8,299.2 560.6,298.8 563.6,298.8 C566.6,298.7 565.7,298.8 570.0,298.8 C574.3,298.8 582.4,298.8 589.5,298.8 C596.7,298.7 606.5,298.8 613.0,298.2 C619.5,297.6 622.7,296.3 628.6,295.2 C634.5,294.2 641.6,293.1 648.1,291.7 C654.6,290.4 661.8,288.7 667.7,287.0 C673.5,285.4 679.4,283.4 683.3,282.0 C687.2,280.6 687.8,280.3 691.1,278.6 C694.3,276.9 698.9,274.4 702.8,271.8 C706.7,269.2 710.6,265.9 714.5,263.0 C718.4,260.1 722.3,257.1 726.2,254.2 C730.2,251.3 734.1,248.5 738.0,245.4 C741.9,242.3 745.8,239.1 749.7,235.7 C753.6,232.2 754.5,230.9 761.4,224.9 C768.3,219.0 784.7,205.4 791.3,200.0 C797.9,194.6 796.9,195.6 801.1,192.6 C805.3,189.6 811.5,185.4 816.7,181.8 C821.9,178.3 827.5,174.3 832.3,171.1 C837.2,167.8 841.8,164.9 846.0,162.3 C850.2,159.7 854.9,156.9 857.7,155.5 C860.5,154.0 862.0,153.8 862.8,153.5" fill="none" stroke="#e8933f" stroke-width="0.9"/>
<line x1="-1.3" y1="348.6" x2="-1.3" y2="354.5" stroke="#585858" stroke-width="0.9"/>
<rect x="-3.0" y="350.0" width="3.4" height="3.5" fill="#6e6e6e" stroke="#3c3c3c" stroke-width="0.8"/>
<line x1="3.5" y1="324.2" x2="3.5" y2="367.2" stroke="#404040" stroke-width="0.9"/>
<rect x="1.8" y="327.5" width="3.4" height="37.1" fill="#fff" stroke="#3c3c3c" stroke-width="0.8"/>
<line x1="8.3" y1="316.4" x2="8.3" y2="344.1" stroke="#585858" stroke-width="0.9"/>
<rect x="6.6" y="327.5" width="3.4" height="16.2" fill="#6e6e6e" stroke="#3c3c3c" stroke-width="0.8"/>
<line x1="13.1" y1="332.0" x2="13.1" y2="356.4" stroke="#585858" stroke-width="0.9"/>
<rect x="11.4" y="343.4" width="3.4" height="8.2" fill="#6e6e6e" stroke="#3c3c3c" stroke-width="0.8"/>
<line x1="17.9" y1="340.2" x2="17.9" y2="357.4" stroke="#585858" stroke-width="0.9"/>
<rect x="16.2" y="351.0" width="3.4" height="2.1" fill="#6e6e6e" stroke="#3c3c3c" stroke-width="0.8"/>
<line x1="22.7" y1="331.1" x2="22.7" y2="355.5" stroke="#585858" stroke-width="0.9"/>
<rect x="21.0" y="333.0" width="3.4" height="11.1" fill="#6e6e6e" stroke="#3c3c3c" stroke-width="0.8"/>
<line x1="27.5" y1="328.1" x2="27.5" y2="347.1" stroke="#404040" stroke-width="0.9"/>
<rect x="25.8" y="341.4" width="3.4" height="2.7" fill="#fff" stroke="#3c3c3c" stroke-width="0.8"/>
<line x1="32.3" y1="332.0" x2="32.3" y2="350.4" stroke="#585858" stroke-width="0.9"/>
<rect x="30.6" y="341.2" width="3.4" height="8.8" fill="#6e6e6e" stroke="#3c3c3c" stroke-width="0.8"/>
<line x1="37.1" y1="317.0" x2="37.1" y2="350.4" stroke="#404040" stroke-width="0.9"/>
<rect x="35.4" y="319.9" width="3.4" height="30.1" fill="#fff" stroke="#3c3c3c" stroke-width="0.8"/>
<line x1="41.9" y1="318.8" x2="41.9" y2="340.2" stroke="#585858" stroke-width="0.9"/>
<rect x="40.2" y="322.3" width="3.4" height="15.6" fill="#6e6e6e" stroke="#3c3c3c" stroke-width="0.8"/>
<line x1="46.7" y1="334.0" x2="46.7" y2="349.0" stroke="#585858" stroke-width="0.9"/>
<rect x="45.0" y="337.5" width="3.4" height="7.2" fill="#6e6e6e" stroke="#3c3c3c" stroke-width="0.8"/>
<line x1="51.5" y1="331.2" x2="51.5" y2="350.0" stroke="#404040" stroke-width="0.9"/>
<rect x="49.8" y="337.9" width="3.4" height="6.4" fill="#fff" stroke="#3c3c3c" stroke-width="0.8"/>
<line x1="56.3" y1="334.0" x2="56.3" y2="350.0" stroke="#585858" stroke-width="0.9"/>
<rect x="54.6" y="337.9" width="3.4" height="3.5" fill="#6e6e6e" stroke="#3c3c3c" stroke-width="0.8"/>
<line x1="61.1" y1="317.0" x2="61.1" y2="335.4" stroke="#585858" stroke-width="0.9"/>
<rect x="59.4" y="318.0" width="3.4" height="12.7" fill="#6e6e6e" stroke="#3c3c3c" stroke-width="0.8"/>
<line x1="65.9" y1="315.6" x2="65.9" y2="334.0" stroke="#404040" stroke-width="0.9"/>
<rect x="64.2" y="319.1" width="3.4" height="11.7" fill="#fff" stroke="#3c3c3c" stroke-width="0.8"/>
<line x1="70.7" y1="302.3" x2="70.7" y2="321.9" stroke="#404040" stroke-width="0.9"/>
<rect x="69.0" y="314.5" width="3.4" height="5.3" fill="#fff" stroke="#3c3c3c" stroke-width="0.8"/>
<line x1="75.5" y1="309.6" x2="75.5" y2="323.6" stroke="#585858" stroke-width="0.9"/>
<rect x="73.8" y="314.1" width="3.4" height="7.2" fill="#6e6e6e" stroke="#3c3c3c" stroke-width="0.8"/>
<line x1="80.3" y1="304.7" x2="80.3" y2="319.3" stroke="#404040" stroke-width="0.9"/>
<rect x="78.6" y="309.2" width="3.4" height="2.1" fill="#fff" stroke="#3c3c3c" stroke-width="0.8"/>
<line x1="85.1" y1="300.0" x2="85.1" y2="318.4" stroke="#585858" stroke-width="0.9"/>
<rect x="83.4" y="309.0" width="3.4" height="8.4" fill="#6e6e6e" stroke="#3c3c3c" stroke-width="0.8"/>
<line x1="89.9" y1="303.1" x2="89.9" y2="324.2" stroke="#404040" stroke-width="0.9"/>
<rect x="88.2" y="305.1" width="3.4" height="12.3" fill="#fff" stroke="#3c3c3c" stroke-width="0.8"/>
<line x1="94.7" y1="304.7" x2="94.7" y2="330.7" stroke="#585858" stroke-width="0.9"/>
<rect x="93.0" y="305.1" width="3.4" height="16.2" fill="#6e6e6e" stroke="#3c3c3c" stroke-width="0.8"/>
<line x1="99.5" y1="301.2" x2="99.5" y2="328.1" stroke="#585858" stroke-width="0.9"/>
<rect x="97.8" y="308.2" width="3.4" height="17.6" fill="#6e6e6e" stroke="#3c3c3c" stroke-width="0.8"/>
<line x1="104.3" y1="303.1" x2="104.3" y2="327.1" stroke="#404040" stroke-width="0.9"/>
<rect x="102.6" y="313.9" width="3.4" height="11.9" fill="#fff" stroke="#3c3c3c" stroke-width="0.8"/>
<line x1="109.1" y1="312.9" x2="109.1" y2="335.9" stroke="#585858" stroke-width="0.9"/>
<rect x="107.4" y="313.5" width="3.4" height="10.7" fill="#6e6e6e" stroke="#3c3c3c" stroke-width="0.8"/>
<line x1="113.9" y1="318.8" x2="113.9" y2="337.7" stroke="#585858" stroke-width="0.9"/>
<rect x="112.2" y="324.2" width="3.4" height="13.1" fill="#6e6e6e" stroke="#3c3c3c" stroke-width="0.8"/>
<line x1="118.7" y1="309.6" x2="118.7" y2="332.8" stroke="#404040" stroke-width="0.9"/>
<rect x="117.0" y="321.3" width="3.4" height="11.1" fill="#fff" stroke="#3c3c3c" stroke-width="0.8"/>
<line x1="123.5" y1="311.5" x2="123.5" y2="321.7" stroke="#404040" stroke-width="0.9"/>
<rect x="121.8" y="312.1" width="3.4" height="9.2" fill="#fff" stroke="#3c3c3c" stroke-width="0.8"/>
<line x1="128.3" y1="293.6" x2="128.3" y2="315.8" stroke="#404040" stroke-width="0.9"/>
<rect x="126.6" y="300.4" width="3.4" height="12.1" fill="#fff" stroke="#3c3c3c" stroke-width="0.8"/>
<line x1="133.1" y1="294.5" x2="133.1" y2="313.5" stroke="#585858" stroke-width="0.9"/>
<rect x="131.4" y="300.4" width="3.4" height="5.7" fill="#6e6e6e" stroke="#3c3c3c" stroke-width="0.8"/>
<line x1="137.9" y1="283.2" x2="137.9" y2="296.9" stroke="#585858" stroke-width="0.9"/>
<rect x="136.2" y="286.1" width="3.4" height="1.4" fill="#6e6e6e" stroke="#3c3c3c" stroke-width="0.8"/>
<line x1="142.7" y1="283.6" x2="142.7" y2="300.4" stroke="#404040" stroke-width="0.9"/>
<rect x="140.6" y="285.5" width="4.2" height="1.1" fill="#303030"/>
<line x1="147.5" y1="284.2" x2="147.5" y2="302.7" stroke="#585858" stroke-width="0.9"/>
<rect x="145.8" y="286.1" width="3.4" height="4.3" fill="#6e6e6e" stroke="#3c3c3c" stroke-width="0.8"/>
<line x1="152.3" y1="288.7" x2="152.3" y2="301.2" stroke="#585858" stroke-width="0.9"/>
<rect x="150.6" y="290.2" width="3.4" height="10.0" fill="#6e6e6e" stroke="#3c3c3c" stroke-width="0.8"/>
<line x1="157.1" y1="295.5" x2="157.1" y2="320.7" stroke="#404040" stroke-width="0.9"/>
<rect x="155.4" y="306.1" width="3.4" height="14.3" fill="#fff" stroke="#3c3c3c" stroke-width="0.8"/>
<line x1="161.9" y1="299.2" x2="161.9" y2="312.5" stroke="#404040" stroke-width="0.9"/>
<rect x="160.2" y="304.3" width="3.4" height="2.0" fill="#fff" stroke="#3c3c3c" stroke-width="0.8"/>
<line x1="166.7" y1="283.2" x2="166.7" y2="306.6" stroke="#404040" stroke-width="0.9"/>
<rect x="165.0" y="284.8" width="3.4" height="19.9" fill="#fff" stroke="#3c3c3c" stroke-width="0.8"/>
<line x1="171.5" y1="281.2" x2="171.5" y2="295.3" stroke="#585858" stroke-width="0.9"/>
<rect x="169.8" y="284.8" width="3.4" height="5.9" fill="#6e6e6e" stroke="#3c3c3c" stroke-width="0.8"/>
<line x1="176.3" y1="289.1" x2="176.3" y2="313.5" stroke="#585858" stroke-width="0.9"/>
<rect x="174.6" y="300.2" width="3.4" height="11.3" fill="#6e6e6e" stroke="#3c3c3c" stroke-width="0.8"/>
<line x1="181.1" y1="296.9" x2="181.1" y2="318.0" stroke="#404040" stroke-width="0.9"/>
<rect x="179.4" y="306.6" width="3.4" height="4.9" fill="#fff" stroke="#3c3c3c" stroke-width="0.8"/>
<line x1="185.9" y1="306.2" x2="185.9" y2="332.4" stroke="#585858" stroke-width="0.9"/>
<rect x="184.2" y="306.6" width="3.4" height="15.2" fill="#6e6e6e" stroke="#3c3c3c" stroke-width="0.8"/>
<line x1="190.7" y1="309.6" x2="190.7" y2="323.8" stroke="#404040" stroke-width="0.9"/>
<rect x="189.0" y="315.4" width="3.4" height="6.2" fill="#fff" stroke="#3c3c3c" stroke-width="0.8"/>
<line x1="195.5" y1="295.2" x2="195.5" y2="314.7" stroke="#404040" stroke-width="0.9"/>
<rect x="193.8" y="297.1" width="3.4" height="11.1" fill="#fff" stroke="#3c3c3c" stroke-width="0.8"/>
<line x1="200.3" y1="278.6" x2="200.3" y2="299.7" stroke="#404040" stroke-width="0.9"/>
<rect x="198.6" y="279.2" width="3.4" height="18.4" fill="#fff" stroke="#3c3c3c" stroke-width="0.8"/>
<line x1="205.1" y1="271.2" x2="205.1" y2="284.8" stroke="#585858" stroke-width="0.9"/>
<rect x="203.4" y="279.2" width="3.4" height="5.3" fill="#6e6e6e" stroke="#3c3c3c" stroke-width="0.8"/>
<line x1="209.9" y1="280.9" x2="209.9" y2="298.1" stroke="#585858" stroke-width="0.9"/>
<rect x="208.2" y="283.9" width="3.4" height="9.4" fill="#6e6e6e" stroke="#3c3c3c" stroke-width="0.8"/>
<line x1="214.7" y1="305.4" x2="214.7" y2="317.1" stroke="#585858" stroke-width="0.9"/>
<rect x="213.0" y="308.9" width="3.4" height="5.3" fill="#6e6e6e" stroke="#3c3c3c" stroke-width="0.8"/>
<line x1="219.5" y1="306.9" x2="219.5" y2="343.0" stroke="#585858" stroke-width="0.9"/>
<rect x="217.8" y="313.8" width="3.4" height="27.7" fill="#6e6e6e" stroke="#3c3c3c" stroke-width="0.8"/>
<line x1="224.3" y1="324.9" x2="224.3" y2="344.8" stroke="#585858" stroke-width="0.9"/>
<rect x="222.6" y="341.1" width="3.4" height="3.3" fill="#6e6e6e" stroke="#3c3c3c" stroke-width="0.8"/>
<line x1="229.1" y1="319.6" x2="229.1" y2="346.4" stroke="#404040" stroke-width="0.9"/>
<rect x="227.4" y="328.0" width="3.4" height="16.6" fill="#fff" stroke="#3c3c3c" stroke-width="0.8"/>
<line x1="233.9" y1="324.1" x2="233.9" y2="334.8" stroke="#404040" stroke-width="0.9"/>
<rect x="232.2" y="327.0" width="3.4" height="2.3" fill="#fff" stroke="#3c3c3c" stroke-width="0.8"/>
<line x1="238.7" y1="314.1" x2="238.7" y2="330.4" stroke="#404040" stroke-width="0.9"/>
<rect x="237.0" y="316.1" width="3.4" height="11.7" fill="#fff" stroke="#3c3c3c" stroke-width="0.8"/>
<line x1="243.5" y1="301.6" x2="243.5" y2="319.6" stroke="#404040" stroke-width="0.9"/>
<rect x="241.8" y="308.5" width="3.4" height="7.8" fill="#fff" stroke="#3c3c3c" stroke-width="0.8"/>
<line x1="248.3" y1="304.4" x2="248.3" y2="311.8" stroke="#585858" stroke-width="0.9"/>
<rect x="246.6" y="308.5" width="3.4" height="2.3" fill="#6e6e6e" stroke="#3c3c3c" stroke-width="0.8"/>
<line x1="253.1" y1="301.6" x2="253.1" y2="322.9" stroke="#404040" stroke-width="0.9"/>
<rect x="251.4" y="305.5" width="3.4" height="7.2" fill="#fff" stroke="#3c3c3c" stroke-width="0.8"/>
<line x1="257.9" y1="293.6" x2="257.9" y2="309.8" stroke="#404040" stroke-width="0.9"/>
<rect x="256.2" y="300.1" width="3.4" height="5.9" fill="#fff" stroke="#3c3c3c" stroke-width="0.8"/>
<line x1="262.7" y1="291.3" x2="262.7" y2="322.9" stroke="#585858" stroke-width="0.9"/>
<rect x="261.0" y="300.1" width="3.4" height="19.5" fill="#6e6e6e" stroke="#3c3c3c" stroke-width="0.8"/>
<line x1="267.5" y1="308.3" x2="267.5" y2="321.6" stroke="#404040" stroke-width="0.9"/>
<rect x="265.8" y="315.3" width="3.4" height="4.3" fill="#fff" stroke="#3c3c3c" stroke-width="0.8"/>
<line x1="272.3" y1="317.7" x2="272.3" y2="335.2" stroke="#585858" stroke-width="0.9"/>
<rect x="270.6" y="319.6" width="3.4" height="14.6" fill="#6e6e6e" stroke="#3c3c3c" stroke-width="0.8"/>
<line x1="277.1" y1="332.9" x2="277.1" y2="343.4" stroke="#585858" stroke-width="0.9"/>
<rect x="275.4" y="333.3" width="3.4" height="8.2" fill="#6e6e6e" stroke="#3c3c3c" stroke-width="0.8"/>
<line x1="281.9" y1="339.5" x2="281.9" y2="347.9" stroke="#585858" stroke-width="0.9"/>
<rect x="280.2" y="341.1" width="3.4" height="5.3" fill="#6e6e6e" stroke="#3c3c3c" stroke-width="0.8"/>
<line x1="286.7" y1="316.1" x2="286.7" y2="347.0" stroke="#404040" stroke-width="0.9"/>
<rect x="285.0" y="320.2" width="3.4" height="26.2" fill="#fff" stroke="#3c3c3c" stroke-width="0.8"/>
<line x1="291.5" y1="316.1" x2="291.5" y2="326.8" stroke="#404040" stroke-width="0.9"/>
<rect x="289.8" y="318.6" width="3.4" height="4.9" fill="#fff" stroke="#3c3c3c" stroke-width="0.8"/>
<line x1="296.3" y1="312.2" x2="296.3" y2="330.4" stroke="#404040" stroke-width="0.9"/>
<rect x="294.6" y="314.3" width="3.4" height="4.3" fill="#fff" stroke="#3c3c3c" stroke-width="0.8"/>
<line x1="301.1" y1="303.0" x2="301.1" y2="316.7" stroke="#404040" stroke-width="0.9"/>
<rect x="299.4" y="305.0" width="3.4" height="9.8" fill="#fff" stroke="#3c3c3c" stroke-width="0.8"/>
<line x1="305.9" y1="298.5" x2="305.9" y2="307.9" stroke="#404040" stroke-width="0.9"/>
<rect x="304.2" y="303.4" width="3.4" height="2.0" fill="#fff" stroke="#3c3c3c" stroke-width="0.8"/>
<line x1="310.7" y1="295.2" x2="310.7" y2="322.0" stroke="#585858" stroke-width="0.9"/>
<rect x="309.0" y="297.7" width="3.4" height="12.5" fill="#6e6e6e" stroke="#3c3c3c" stroke-width="0.8"/>
<line x1="315.5" y1="297.1" x2="315.5" y2="315.7" stroke="#404040" stroke-width="0.9"/>
<rect x="313.8" y="301.1" width="3.4" height="8.8" fill="#fff" stroke="#3c3c3c" stroke-width="0.8"/>
<line x1="320.3" y1="298.1" x2="320.3" y2="316.1" stroke="#585858" stroke-width="0.9"/>
<rect x="318.6" y="301.1" width="3.4" height="9.2" fill="#6e6e6e" stroke="#3c3c3c" stroke-width="0.8"/>
<line x1="325.1" y1="283.9" x2="325.1" y2="311.8" stroke="#404040" stroke-width="0.9"/>
<rect x="323.4" y="298.5" width="3.4" height="12.3" fill="#fff" stroke="#3c3c3c" stroke-width="0.8"/>
<line x1="329.9" y1="272.7" x2="329.9" y2="286.4" stroke="#585858" stroke-width="0.9"/>
<rect x="328.2" y="283.5" width="3.4" height="2.5" fill="#6e6e6e" stroke="#3c3c3c" stroke-width="0.8"/>
<line x1="334.7" y1="267.3" x2="334.7" y2="286.8" stroke="#404040" stroke-width="0.9"/>
<rect x="333.0" y="275.3" width="3.4" height="11.1" fill="#fff" stroke="#3c3c3c" stroke-width="0.8"/>
<line x1="339.5" y1="256.1" x2="339.5" y2="283.5" stroke="#404040" stroke-width="0.9"/>
<rect x="337.8" y="258.5" width="3.4" height="17.2" fill="#fff" stroke="#3c3c3c" stroke-width="0.8"/>
<line x1="344.3" y1="255.2" x2="344.3" y2="268.8" stroke="#585858" stroke-width="0.9"/>
<rect x="342.6" y="258.5" width="3.4" height="4.9" fill="#6e6e6e" stroke="#3c3c3c" stroke-width="0.8"/>
<line x1="349.1" y1="248.3" x2="349.1" y2="258.1" stroke="#404040" stroke-width="0.9"/>
<rect x="347.4" y="248.9" width="3.4" height="6.6" fill="#fff" stroke="#3c3c3c" stroke-width="0.8"/>
<line x1="353.9" y1="240.5" x2="353.9" y2="264.9" stroke="#585858" stroke-width="0.9"/>
<rect x="352.2" y="248.9" width="3.4" height="12.5" fill="#6e6e6e" stroke="#3c3c3c" stroke-width="0.8"/>
<line x1="358.7" y1="258.5" x2="358.7" y2="277.0" stroke="#585858" stroke-width="0.9"/>
<rect x="357.0" y="261.0" width="3.4" height="15.6" fill="#6e6e6e" stroke="#3c3c3c" stroke-width="0.8"/>
<line x1="363.5" y1="272.7" x2="363.5" y2="285.4" stroke="#585858" stroke-width="0.9"/>
<rect x="361.8" y="276.2" width="3.4" height="8.2" fill="#6e6e6e" stroke="#3c3c3c" stroke-width="0.8"/>
<line x1="368.3" y1="274.7" x2="368.3" y2="287.0" stroke="#404040" stroke-width="0.9"/>
<rect x="366.2" y="281.3" width="4.2" height="1.1" fill="#303030"/>
<line x1="373.1" y1="269.2" x2="373.1" y2="289.3" stroke="#585858" stroke-width="0.9"/>
<rect x="371.4" y="281.1" width="3.4" height="5.7" fill="#6e6e6e" stroke="#3c3c3c" stroke-width="0.8"/>
<line x1="377.9" y1="278.2" x2="377.9" y2="307.3" stroke="#585858" stroke-width="0.9"/>
<rect x="376.2" y="286.4" width="3.4" height="15.6" fill="#6e6e6e" stroke="#3c3c3c" stroke-width="0.8"/>
<line x1="382.7" y1="297.4" x2="382.7" y2="308.5" stroke="#404040" stroke-width="0.9"/>
<rect x="380.6" y="301.1" width="4.2" height="1.1" fill="#303030"/>
<line x1="387.5" y1="269.5" x2="387.5" y2="290.2" stroke="#404040" stroke-width="0.9"/>
<rect x="385.8" y="275.3" width="3.4" height="14.3" fill="#fff" stroke="#3c3c3c" stroke-width="0.8"/>
<line x1="392.3" y1="269.5" x2="392.3" y2="283.7" stroke="#404040" stroke-width="0.9"/>
<rect x="390.2" y="275.3" width="4.2" height="1.1" fill="#303030"/>
<line x1="397.1" y1="271.0" x2="397.1" y2="288.6" stroke="#585858" stroke-width="0.9"/>
<rect x="395.4" y="275.3" width="3.4" height="7.0" fill="#6e6e6e" stroke="#3c3c3c" stroke-width="0.8"/>
<line x1="401.9" y1="275.3" x2="401.9" y2="283.1" stroke="#585858" stroke-width="0.9"/>
<rect x="400.2" y="281.2" width="3.4" height="1.2" fill="#6e6e6e" stroke="#3c3c3c" stroke-width="0.8"/>
<line x1="406.7" y1="271.0" x2="406.7" y2="287.6" stroke="#585858" stroke-width="0.9"/>
<rect x="405.0" y="273.4" width="3.4" height="13.9" fill="#6e6e6e" stroke="#3c3c3c" stroke-width="0.8"/>
<line x1="411.5" y1="284.3" x2="411.5" y2="295.8" stroke="#404040" stroke-width="0.9"/>
<rect x="409.8" y="285.3" width="3.4" height="1.8" fill="#fff" stroke="#3c3c3c" stroke-width="0.8"/>
<line x1="416.3" y1="274.9" x2="416.3" y2="301.3" stroke="#585858" stroke-width="0.9"/>
<rect x="414.6" y="285.3" width="3.4" height="12.1" fill="#6e6e6e" stroke="#3c3c3c" stroke-width="0.8"/>
<line x1="421.1" y1="290.2" x2="421.1" y2="326.7" stroke="#585858" stroke-width="0.9"/>
<rect x="419.4" y="297.0" width="3.4" height="29.1" fill="#6e6e6e" stroke="#3c3c3c" stroke-width="0.8"/>
<line x1="425.9" y1="309.1" x2="425.9" y2="338.4" stroke="#585858" stroke-width="0.9"/>
<rect x="424.2" y="311.1" width="3.4" height="10.7" fill="#6e6e6e" stroke="#3c3c3c" stroke-width="0.8"/>
<line x1="430.7" y1="308.1" x2="430.7" y2="323.4" stroke="#404040" stroke-width="0.9"/>
<rect x="429.0" y="311.6" width="3.4" height="10.5" fill="#fff" stroke="#3c3c3c" stroke-width="0.8"/>
<line x1="435.5" y1="310.1" x2="435.5" y2="327.1" stroke="#585858" stroke-width="0.9"/>
<rect x="433.8" y="312.0" width="3.4" height="10.7" fill="#6e6e6e" stroke="#3c3c3c" stroke-width="0.8"/>
<line x1="440.3" y1="316.9" x2="440.3" y2="336.8" stroke="#404040" stroke-width="0.9"/>
<rect x="438.6" y="320.4" width="3.4" height="1.8" fill="#fff" stroke="#3c3c3c" stroke-width="0.8"/>
<line x1="445.1" y1="307.5" x2="445.1" y2="326.1" stroke="#585858" stroke-width="0.9"/>
<rect x="443.4" y="312.0" width="3.4" height="9.4" fill="#6e6e6e" stroke="#3c3c3c" stroke-width="0.8"/>
<line x1="449.9" y1="312.0" x2="449.9" y2="324.7" stroke="#585858" stroke-width="0.9"/>
<rect x="448.2" y="320.8" width="3.4" height="1.0" fill="#6e6e6e" stroke="#3c3c3c" stroke-width="0.8"/>
<line x1="454.7" y1="309.5" x2="454.7" y2="323.8" stroke="#404040" stroke-width="0.9"/>
<rect x="453.0" y="313.0" width="3.4" height="9.2" fill="#fff" stroke="#3c3c3c" stroke-width="0.8"/>
<line x1="459.5" y1="305.6" x2="459.5" y2="318.9" stroke="#404040" stroke-width="0.9"/>
<rect x="457.4" y="312.8" width="4.2" height="1.1" fill="#303030"/>
<line x1="464.3" y1="283.1" x2="464.3" y2="299.9" stroke="#404040" stroke-width="0.9"/>
<rect x="462.6" y="285.7" width="3.4" height="11.7" fill="#fff" stroke="#3c3c3c" stroke-width="0.8"/>
<line x1="469.1" y1="273.4" x2="469.1" y2="295.8" stroke="#585858" stroke-width="0.9"/>
<rect x="467.4" y="285.7" width="3.4" height="4.3" fill="#6e6e6e" stroke="#3c3c3c" stroke-width="0.8"/>
<line x1="473.9" y1="280.8" x2="473.9" y2="304.6" stroke="#585858" stroke-width="0.9"/>
<rect x="472.2" y="289.6" width="3.4" height="7.8" fill="#6e6e6e" stroke="#3c3c3c" stroke-width="0.8"/>
<line x1="478.7" y1="294.5" x2="478.7" y2="305.2" stroke="#585858" stroke-width="0.9"/>
<rect x="477.0" y="297.0" width="3.4" height="4.7" fill="#6e6e6e" stroke="#3c3c3c" stroke-width="0.8"/>
<line x1="483.5" y1="302.3" x2="483.5" y2="322.8" stroke="#585858" stroke-width="0.9"/>
<rect x="481.8" y="302.9" width="3.4" height="18.6" fill="#6e6e6e" stroke="#3c3c3c" stroke-width="0.8"/>
<line x1="488.3" y1="312.0" x2="488.3" y2="332.0" stroke="#404040" stroke-width="0.9"/>
<rect x="486.6" y="315.4" width="3.4" height="6.1" fill="#fff" stroke="#3c3c3c" stroke-width="0.8"/>
<line x1="493.1" y1="309.7" x2="493.1" y2="329.6" stroke="#585858" stroke-width="0.9"/>
<rect x="491.4" y="315.0" width="3.4" height="9.4" fill="#6e6e6e" stroke="#3c3c3c" stroke-width="0.8"/>
<line x1="497.9" y1="317.5" x2="497.9" y2="328.0" stroke="#404040" stroke-width="0.9"/>
<rect x="496.2" y="319.3" width="3.4" height="5.5" fill="#fff" stroke="#3c3c3c" stroke-width="0.8"/>
<line x1="502.7" y1="301.9" x2="502.7" y2="311.1" stroke="#585858" stroke-width="0.9"/>
<rect x="501.0" y="303.2" width="3.4" height="4.3" fill="#6e6e6e" stroke="#3c3c3c" stroke-width="0.8"/>
<line x1="507.5" y1="298.4" x2="507.5" y2="310.1" stroke="#404040" stroke-width="0.9"/>
<rect x="505.8" y="301.9" width="3.4" height="5.7" fill="#fff" stroke="#3c3c3c" stroke-width="0.8"/>
<line x1="512.3" y1="287.0" x2="512.3" y2="308.1" stroke="#585858" stroke-width="0.9"/>
<rect x="510.6" y="301.9" width="3.4" height="4.9" fill="#6e6e6e" stroke="#3c3c3c" stroke-width="0.8"/>
<line x1="517.1" y1="297.4" x2="517.1" y2="315.0" stroke="#404040" stroke-width="0.9"/>
<rect x="515.4" y="304.2" width="3.4" height="2.3" fill="#fff" stroke="#3c3c3c" stroke-width="0.8"/>
<line x1="521.9" y1="310.1" x2="521.9" y2="329.6" stroke="#404040" stroke-width="0.9"/>
<rect x="520.2" y="313.4" width="3.4" height="6.4" fill="#fff" stroke="#3c3c3c" stroke-width="0.8"/>
<line x1="526.7" y1="312.0" x2="526.7" y2="334.5" stroke="#585858" stroke-width="0.9"/>
<rect x="525.0" y="313.0" width="3.4" height="12.7" fill="#6e6e6e" stroke="#3c3c3c" stroke-width="0.8"/>
<line x1="531.5" y1="315.4" x2="531.5" y2="339.8" stroke="#585858" stroke-width="0.9"/>
<rect x="529.8" y="325.1" width="3.4" height="13.7" fill="#6e6e6e" stroke="#3c3c3c" stroke-width="0.8"/>
<line x1="536.3" y1="331.6" x2="536.3" y2="345.6" stroke="#404040" stroke-width="0.9"/>
<rect x="534.6" y="334.1" width="3.4" height="4.7" fill="#fff" stroke="#3c3c3c" stroke-width="0.8"/>
<line x1="541.1" y1="325.7" x2="541.1" y2="340.4" stroke="#404040" stroke-width="0.9"/>
<rect x="539.4" y="328.2" width="3.4" height="2.3" fill="#fff" stroke="#3c3c3c" stroke-width="0.8"/>
<line x1="545.9" y1="309.1" x2="545.9" y2="329.2" stroke="#404040" stroke-width="0.9"/>
<rect x="544.2" y="310.1" width="3.4" height="18.6" fill="#fff" stroke="#3c3c3c" stroke-width="0.8"/>
<line x1="550.7" y1="301.7" x2="550.7" y2="311.1" stroke="#404040" stroke-width="0.9"/>
<rect x="549.0" y="304.8" width="3.4" height="5.9" fill="#fff" stroke="#3c3c3c" stroke-width="0.8"/>
<line x1="555.5" y1="295.4" x2="555.5" y2="308.5" stroke="#404040" stroke-width="0.9"/>
<rect x="553.8" y="300.3" width="3.4" height="5.3" fill="#fff" stroke="#3c3c3c" stroke-width="0.8"/>
<line x1="560.3" y1="290.5" x2="560.3" y2="302.9" stroke="#404040" stroke-width="0.9"/>
<rect x="558.6" y="293.5" width="3.4" height="7.8" fill="#fff" stroke="#3c3c3c" stroke-width="0.8"/>
<line x1="565.1" y1="278.8" x2="565.1" y2="295.8" stroke="#404040" stroke-width="0.9"/>
<rect x="563.4" y="280.2" width="3.4" height="14.3" fill="#fff" stroke="#3c3c3c" stroke-width="0.8"/>
<line x1="569.9" y1="271.0" x2="569.9" y2="281.8" stroke="#404040" stroke-width="0.9"/>
<rect x="568.2" y="276.9" width="3.4" height="3.9" fill="#fff" stroke="#3c3c3c" stroke-width="0.8"/>
<line x1="574.7" y1="262.4" x2="574.7" y2="278.0" stroke="#404040" stroke-width="0.9"/>
<rect x="573.0" y="265.4" width="3.4" height="12.3" fill="#fff" stroke="#3c3c3c" stroke-width="0.8"/>
<line x1="579.5" y1="260.1" x2="579.5" y2="276.1" stroke="#404040" stroke-width="0.9"/>
<rect x="577.8" y="265.9" width="3.4" height="5.5" fill="#fff" stroke="#3c3c3c" stroke-width="0.8"/>
<line x1="584.3" y1="248.8" x2="584.3" y2="269.5" stroke="#404040" stroke-width="0.9"/>
<rect x="582.6" y="253.2" width="3.4" height="12.7" fill="#fff" stroke="#3c3c3c" stroke-width="0.8"/>
<line x1="589.1" y1="251.3" x2="589.1" y2="269.8" stroke="#585858" stroke-width="0.9"/>
<rect x="587.4" y="252.9" width="3.4" height="4.3" fill="#6e6e6e" stroke="#3c3c3c" stroke-width="0.8"/>
<line x1="593.9" y1="252.3" x2="593.9" y2="267.5" stroke="#585858" stroke-width="0.9"/>
<rect x="592.2" y="257.1" width="3.4" height="5.3" fill="#6e6e6e" stroke="#3c3c3c" stroke-width="0.8"/>
<line x1="598.7" y1="257.7" x2="598.7" y2="272.8" stroke="#585858" stroke-width="0.9"/>
<rect x="597.0" y="266.3" width="3.4" height="3.5" fill="#6e6e6e" stroke="#3c3c3c" stroke-width="0.8"/>
<line x1="603.5" y1="267.3" x2="603.5" y2="280.6" stroke="#585858" stroke-width="0.9"/>
<rect x="601.8" y="268.9" width="3.4" height="10.7" fill="#6e6e6e" stroke="#3c3c3c" stroke-width="0.8"/>
<line x1="608.3" y1="268.9" x2="608.3" y2="282.1" stroke="#404040" stroke-width="0.9"/>
<rect x="606.6" y="276.3" width="3.4" height="2.7" fill="#fff" stroke="#3c3c3c" stroke-width="0.8"/>
<line x1="613.1" y1="271.4" x2="613.1" y2="280.0" stroke="#585858" stroke-width="0.9"/>
<rect x="611.4" y="276.1" width="3.4" height="2.5" fill="#6e6e6e" stroke="#3c3c3c" stroke-width="0.8"/>
<line x1="617.9" y1="242.9" x2="617.9" y2="261.6" stroke="#404040" stroke-width="0.9"/>
<rect x="616.2" y="243.1" width="3.4" height="16.6" fill="#fff" stroke="#3c3c3c" stroke-width="0.8"/>
<line x1="622.7" y1="237.6" x2="622.7" y2="244.1" stroke="#585858" stroke-width="0.9"/>
<rect x="621.0" y="242.5" width="3.4" height="1.0" fill="#6e6e6e" stroke="#3c3c3c" stroke-width="0.8"/>
<line x1="627.5" y1="234.3" x2="627.5" y2="245.0" stroke="#404040" stroke-width="0.9"/>
<rect x="625.8" y="240.5" width="3.4" height="2.3" fill="#fff" stroke="#3c3c3c" stroke-width="0.8"/>
<line x1="632.3" y1="237.0" x2="632.3" y2="247.8" stroke="#585858" stroke-width="0.9"/>
<rect x="630.6" y="246.0" width="3.4" height="1.0" fill="#6e6e6e" stroke="#3c3c3c" stroke-width="0.8"/>
<line x1="637.1" y1="243.5" x2="637.1" y2="258.1" stroke="#585858" stroke-width="0.9"/>
<rect x="635.4" y="245.8" width="3.4" height="8.0" fill="#6e6e6e" stroke="#3c3c3c" stroke-width="0.8"/>
<line x1="641.9" y1="240.9" x2="641.9" y2="254.8" stroke="#404040" stroke-width="0.9"/>
<rect x="640.2" y="246.4" width="3.4" height="7.4" fill="#fff" stroke="#3c3c3c" stroke-width="0.8"/>
<line x1="646.7" y1="227.9" x2="646.7" y2="242.1" stroke="#404040" stroke-width="0.9"/>
<rect x="645.0" y="230.2" width="3.4" height="8.4" fill="#fff" stroke="#3c3c3c" stroke-width="0.8"/>
<line x1="651.5" y1="219.1" x2="651.5" y2="237.2" stroke="#585858" stroke-width="0.9"/>
<rect x="649.8" y="230.4" width="3.4" height="6.2" fill="#6e6e6e" stroke="#3c3c3c" stroke-width="0.8"/>
<line x1="656.3" y1="234.7" x2="656.3" y2="250.3" stroke="#585858" stroke-width="0.9"/>
<rect x="654.6" y="236.2" width="3.4" height="8.2" fill="#6e6e6e" stroke="#3c3c3c" stroke-width="0.8"/>
<line x1="661.1" y1="242.1" x2="661.1" y2="256.6" stroke="#585858" stroke-width="0.9"/>
<rect x="659.4" y="244.1" width="3.4" height="5.3" fill="#6e6e6e" stroke="#3c3c3c" stroke-width="0.8"/>
<line x1="665.9" y1="233.3" x2="665.9" y2="253.8" stroke="#585858" stroke-width="0.9"/>
<rect x="664.2" y="240.5" width="3.4" height="10.2" fill="#6e6e6e" stroke="#3c3c3c" stroke-width="0.8"/>
<line x1="670.7" y1="243.5" x2="670.7" y2="253.8" stroke="#404040" stroke-width="0.9"/>
<rect x="668.6" y="250.1" width="4.2" height="1.1" fill="#303030"/>
<line x1="675.5" y1="240.2" x2="675.5" y2="255.2" stroke="#404040" stroke-width="0.9"/>
<rect x="673.8" y="244.5" width="3.4" height="6.2" fill="#fff" stroke="#3c3c3c" stroke-width="0.8"/>
<line x1="680.3" y1="240.2" x2="680.3" y2="254.2" stroke="#585858" stroke-width="0.9"/>
<rect x="678.6" y="244.5" width="3.4" height="6.8" fill="#6e6e6e" stroke="#3c3c3c" stroke-width="0.8"/>
<line x1="685.1" y1="226.9" x2="685.1" y2="240.5" stroke="#404040" stroke-width="0.9"/>
<rect x="683.4" y="230.4" width="3.4" height="8.6" fill="#fff" stroke="#3c3c3c" stroke-width="0.8"/>
<line x1="689.9" y1="215.2" x2="689.9" y2="233.1" stroke="#404040" stroke-width="0.9"/>
<rect x="688.2" y="221.4" width="3.4" height="9.0" fill="#fff" stroke="#3c3c3c" stroke-width="0.8"/>
<line x1="694.7" y1="191.3" x2="694.7" y2="223.4" stroke="#404040" stroke-width="0.9"/>
<rect x="693.0" y="192.7" width="3.4" height="29.3" fill="#fff" stroke="#3c3c3c" stroke-width="0.8"/>
<line x1="699.5" y1="171.1" x2="699.5" y2="194.5" stroke="#404040" stroke-width="0.9"/>
<rect x="697.8" y="173.0" width="3.4" height="20.5" fill="#fff" stroke="#3c3c3c" stroke-width="0.8"/>
<line x1="704.3" y1="128.1" x2="704.3" y2="170.1" stroke="#404040" stroke-width="0.9"/>
<rect x="702.6" y="130.1" width="3.4" height="35.5" fill="#fff" stroke="#3c3c3c" stroke-width="0.8"/>
<line x1="709.1" y1="118.4" x2="709.1" y2="141.8" stroke="#404040" stroke-width="0.9"/>
<rect x="707.4" y="119.3" width="3.4" height="11.1" fill="#fff" stroke="#3c3c3c" stroke-width="0.8"/>
<line x1="713.9" y1="99.8" x2="713.9" y2="145.3" stroke="#404040" stroke-width="0.9"/>
<rect x="712.2" y="117.4" width="3.4" height="2.0" fill="#fff" stroke="#3c3c3c" stroke-width="0.8"/>
<line x1="718.7" y1="114.5" x2="718.7" y2="155.5" stroke="#585858" stroke-width="0.9"/>
<rect x="717.0" y="117.4" width="3.4" height="31.2" fill="#6e6e6e" stroke="#3c3c3c" stroke-width="0.8"/>
<line x1="723.5" y1="116.4" x2="723.5" y2="155.1" stroke="#404040" stroke-width="0.9"/>
<rect x="721.8" y="127.5" width="3.4" height="26.6" fill="#fff" stroke="#3c3c3c" stroke-width="0.8"/>
<line x1="728.3" y1="118.4" x2="728.3" y2="144.7" stroke="#585858" stroke-width="0.9"/>
<rect x="726.6" y="127.1" width="3.4" height="8.2" fill="#6e6e6e" stroke="#3c3c3c" stroke-width="0.8"/>
<line x1="733.1" y1="131.6" x2="733.1" y2="162.3" stroke="#585858" stroke-width="0.9"/>
<rect x="731.4" y="135.4" width="3.4" height="26.4" fill="#6e6e6e" stroke="#3c3c3c" stroke-width="0.8"/>
<line x1="737.9" y1="124.8" x2="737.9" y2="171.5" stroke="#404040" stroke-width="0.9"/>
<rect x="736.2" y="130.1" width="3.4" height="32.2" fill="#fff" stroke="#3c3c3c" stroke-width="0.8"/>
<line x1="742.7" y1="99.8" x2="742.7" y2="110.2" stroke="#585858" stroke-width="0.9"/>
<rect x="741.0" y="101.2" width="3.4" height="6.4" fill="#6e6e6e" stroke="#3c3c3c" stroke-width="0.8"/>
<line x1="747.5" y1="82.2" x2="747.5" y2="109.6" stroke="#404040" stroke-width="0.9"/>
<rect x="745.8" y="88.5" width="3.4" height="19.1" fill="#fff" stroke="#3c3c3c" stroke-width="0.8"/>
<line x1="752.3" y1="80.9" x2="752.3" y2="105.7" stroke="#585858" stroke-width="0.9"/>
<rect x="750.6" y="88.5" width="3.4" height="12.9" fill="#6e6e6e" stroke="#3c3c3c" stroke-width="0.8"/>
<line x1="757.1" y1="98.4" x2="757.1" y2="118.0" stroke="#585858" stroke-width="0.9"/>
<rect x="755.4" y="101.8" width="3.4" height="7.4" fill="#6e6e6e" stroke="#3c3c3c" stroke-width="0.8"/>
<line x1="761.9" y1="101.8" x2="761.9" y2="123.8" stroke="#404040" stroke-width="0.9"/>
<rect x="760.2" y="103.1" width="3.4" height="5.5" fill="#fff" stroke="#3c3c3c" stroke-width="0.8"/>
<line x1="766.7" y1="102.3" x2="766.7" y2="121.3" stroke="#585858" stroke-width="0.9"/>
<rect x="765.0" y="103.1" width="3.4" height="16.2" fill="#6e6e6e" stroke="#3c3c3c" stroke-width="0.8"/>
<line x1="771.5" y1="105.1" x2="771.5" y2="125.6" stroke="#404040" stroke-width="0.9"/>
<rect x="769.8" y="115.0" width="3.4" height="4.3" fill="#fff" stroke="#3c3c3c" stroke-width="0.8"/>
<line x1="776.3" y1="99.8" x2="776.3" y2="128.5" stroke="#404040" stroke-width="0.9"/>
<rect x="774.6" y="105.3" width="3.4" height="9.2" fill="#fff" stroke="#3c3c3c" stroke-width="0.8"/>
<line x1="781.1" y1="108.6" x2="781.1" y2="124.6" stroke="#585858" stroke-width="0.9"/>
<rect x="779.4" y="113.9" width="3.4" height="0.8" fill="#6e6e6e" stroke="#3c3c3c" stroke-width="0.8"/>
<line x1="785.9" y1="88.1" x2="785.9" y2="114.5" stroke="#404040" stroke-width="0.9"/>
<rect x="784.2" y="89.6" width="3.4" height="24.2" fill="#fff" stroke="#3c3c3c" stroke-width="0.8"/>
<line x1="790.7" y1="85.2" x2="790.7" y2="109.2" stroke="#585858" stroke-width="0.9"/>
<rect x="789.0" y="89.6" width="3.4" height="6.6" fill="#6e6e6e" stroke="#3c3c3c" stroke-width="0.8"/>
<line x1="795.5" y1="86.1" x2="795.5" y2="101.8" stroke="#404040" stroke-width="0.9"/>
<rect x="793.8" y="94.5" width="3.4" height="1.8" fill="#fff" stroke="#3c3c3c" stroke-width="0.8"/>
<line x1="800.3" y1="89.6" x2="800.3" y2="154.5" stroke="#585858" stroke-width="0.9"/>
<rect x="798.6" y="101.2" width="3.4" height="20.5" fill="#6e6e6e" stroke="#3c3c3c" stroke-width="0.8"/>
<line x1="805.1" y1="104.7" x2="805.1" y2="139.8" stroke="#404040" stroke-width="0.9"/>
<rect x="803.4" y="107.2" width="3.4" height="14.5" fill="#fff" stroke="#3c3c3c" stroke-width="0.8"/>
<line x1="809.9" y1="101.8" x2="809.9" y2="143.8" stroke="#585858" stroke-width="0.9"/>
<rect x="808.2" y="107.2" width="3.4" height="24.8" fill="#6e6e6e" stroke="#3c3c3c" stroke-width="0.8"/>
<line x1="814.7" y1="117.0" x2="814.7" y2="142.4" stroke="#404040" stroke-width="0.9"/>
<rect x="813.0" y="125.2" width="3.4" height="6.8" fill="#fff" stroke="#3c3c3c" stroke-width="0.8"/>
<line x1="819.5" y1="72.9" x2="819.5" y2="114.8" stroke="#404040" stroke-width="0.9"/>
<rect x="817.8" y="90.4" width="3.4" height="16.8" fill="#fff" stroke="#3c3c3c" stroke-width="0.8"/>
<line x1="824.3" y1="65.6" x2="824.3" y2="92.6" stroke="#404040" stroke-width="0.9"/>
<rect x="822.6" y="79.3" width="3.4" height="11.1" fill="#fff" stroke="#3c3c3c" stroke-width="0.8"/>
<line x1="829.1" y1="75.0" x2="829.1" y2="107.6" stroke="#585858" stroke-width="0.9"/>
<rect x="827.4" y="79.3" width="3.4" height="27.3" fill="#6e6e6e" stroke="#3c3c3c" stroke-width="0.8"/>
<line x1="833.9" y1="101.2" x2="833.9" y2="141.8" stroke="#585858" stroke-width="0.9"/>
<rect x="832.2" y="106.6" width="3.4" height="34.8" fill="#6e6e6e" stroke="#3c3c3c" stroke-width="0.8"/>
<line x1="838.7" y1="91.4" x2="838.7" y2="115.4" stroke="#404040" stroke-width="0.9"/>
<rect x="837.0" y="96.3" width="3.4" height="11.9" fill="#fff" stroke="#3c3c3c" stroke-width="0.8"/>
<line x1="843.5" y1="89.6" x2="843.5" y2="127.5" stroke="#585858" stroke-width="0.9"/>
<rect x="841.8" y="96.3" width="3.4" height="29.3" fill="#6e6e6e" stroke="#3c3c3c" stroke-width="0.8"/>
<line x1="848.3" y1="94.5" x2="848.3" y2="134.4" stroke="#404040" stroke-width="0.9"/>
<rect x="846.6" y="102.7" width="3.4" height="22.5" fill="#fff" stroke="#3c3c3c" stroke-width="0.8"/>
<line x1="853.1" y1="99.2" x2="853.1" y2="131.6" stroke="#585858" stroke-width="0.9"/>
<rect x="851.4" y="102.3" width="3.4" height="24.8" fill="#6e6e6e" stroke="#3c3c3c" stroke-width="0.8"/>
<line x1="857.9" y1="125.2" x2="857.9" y2="156.4" stroke="#585858" stroke-width="0.9"/>
<rect x="856.2" y="130.1" width="3.4" height="6.2" fill="#6e6e6e" stroke="#3c3c3c" stroke-width="0.8"/>
<line x1="862.7" y1="135.9" x2="862.7" y2="140.2" stroke="#404040" stroke-width="0.9"/>
<rect x="860.6" y="135.9" width="4.2" height="1.1" fill="#303030"/>
</g>
<line x1="0" y1="137" x2="971" y2="137" stroke="#707070" stroke-width="0.9" stroke-dasharray="0.8 1.6"/>
<line x1="0" y1="497.5" x2="1024" y2="497.5" stroke="#e4e6ec" stroke-width="1"/>
<g clip-path="url(#sp)">
<rect x="-3.3" y="685.9" width="4" height="6.4" fill="#26a69a"/>
<rect x="1.5" y="683.0" width="4" height="9.3" fill="#26a69a"/>
<rect x="6.3" y="686.5" width="4" height="5.8" fill="#b2dfdb"/>
<rect x="11.1" y="692.3" width="4" height="0.7" fill="#ff5252"/>
<rect x="15.9" y="692.3" width="4" height="5.0" fill="#ff5252"/>
<rect x="20.7" y="692.3" width="4" height="5.9" fill="#ff5252"/>
<rect x="25.5" y="692.3" width="4" height="5.0" fill="#ffcdd2"/>
<rect x="30.3" y="692.3" width="4" height="8.3" fill="#ff5252"/>
<rect x="35.1" y="692.3" width="4" height="1.1" fill="#ffcdd2"/>
<rect x="39.9" y="692.3" width="4" height="2.4" fill="#ff5252"/>
<rect x="44.7" y="692.3" width="4" height="5.0" fill="#ff5252"/>
<rect x="49.5" y="692.3" width="4" height="5.7" fill="#ff5252"/>
<rect x="54.3" y="692.3" width="4" height="6.7" fill="#ff5252"/>
<rect x="59.1" y="692.3" width="4" height="5.0" fill="#ffcdd2"/>
<rect x="63.9" y="692.3" width="4" height="1.1" fill="#ffcdd2"/>
<rect x="68.7" y="688.9" width="4" height="3.4" fill="#26a69a"/>
<rect x="73.5" y="688.9" width="4" height="3.4" fill="#26a69a"/>
<rect x="78.3" y="686.3" width="4" height="6.0" fill="#26a69a"/>
<rect x="83.1" y="687.3" width="4" height="5.0" fill="#b2dfdb"/>
<rect x="87.9" y="685.4" width="4" height="6.9" fill="#26a69a"/>
<rect x="92.7" y="690.2" width="4" height="2.1" fill="#b2dfdb"/>
<rect x="97.5" y="692.3" width="4" height="2.4" fill="#ff5252"/>
<rect x="102.3" y="692.3" width="4" height="2.4" fill="#ffcdd2"/>
<rect x="107.1" y="692.3" width="4" height="5.7" fill="#ff5252"/>
<rect x="111.9" y="692.3" width="4" height="11.2" fill="#ff5252"/>
<rect x="116.7" y="692.3" width="4" height="10.6" fill="#ffcdd2"/>
<rect x="121.5" y="692.3" width="4" height="7.3" fill="#ffcdd2"/>
<rect x="126.3" y="692.3" width="4" height="2.0" fill="#ffcdd2"/>
<rect x="131.1" y="692.3" width="4" height="0.6" fill="#ffcdd2"/>
<rect x="135.9" y="686.5" width="4" height="5.8" fill="#26a69a"/>
<rect x="140.7" y="683.0" width="4" height="9.3" fill="#26a69a"/>
<rect x="145.5" y="684.0" width="4" height="8.3" fill="#b2dfdb"/>
<rect x="150.3" y="687.3" width="4" height="5.0" fill="#b2dfdb"/>
<rect x="155.1" y="691.8" width="4" height="0.6" fill="#b2dfdb"/>
<rect x="159.9" y="692.3" width="4" height="2.8" fill="#ff5252"/>
<rect x="164.7" y="690.8" width="4" height="1.5" fill="#26a69a"/>
<rect x="169.5" y="691.2" width="4" height="1.1" fill="#b2dfdb"/>
<rect x="174.3" y="692.3" width="4" height="5.7" fill="#ff5252"/>
<rect x="179.1" y="692.3" width="4" height="9.3" fill="#ff5252"/>
<rect x="183.9" y="692.3" width="4" height="14.7" fill="#ff5252"/>
<rect x="188.7" y="692.3" width="4" height="16.5" fill="#ff5252"/>
<rect x="193.5" y="692.3" width="4" height="12.2" fill="#ffcdd2"/>
<rect x="198.3" y="692.3" width="4" height="4.4" fill="#ffcdd2"/>
<rect x="203.1" y="691.6" width="4" height="0.7" fill="#26a69a"/>
<rect x="207.9" y="692.3" width="4" height="1.5" fill="#ff5252"/>
<rect x="212.7" y="692.3" width="4" height="7.7" fill="#ff5252"/>
<rect x="217.5" y="692.3" width="4" height="18.6" fill="#ff5252"/>
<rect x="222.3" y="692.3" width="4" height="25.9" fill="#ff5252"/>
<rect x="227.1" y="692.3" width="4" height="24.9" fill="#ffcdd2"/>
<rect x="231.9" y="692.3" width="4" height="23.3" fill="#ffcdd2"/>
<rect x="236.7" y="692.3" width="4" height="18.1" fill="#ffcdd2"/>
<rect x="241.5" y="692.3" width="4" height="11.6" fill="#ffcdd2"/>
<rect x="246.3" y="692.3" width="4" height="7.3" fill="#ffcdd2"/>
<rect x="251.1" y="692.3" width="4" height="3.4" fill="#ffcdd2"/>
<rect x="255.9" y="691.0" width="4" height="1.3" fill="#26a69a"/>
<rect x="260.7" y="692.3" width="4" height="2.0" fill="#ff5252"/>
<rect x="265.5" y="692.3" width="4" height="1.5" fill="#ffcdd2"/>
<rect x="270.3" y="692.3" width="4" height="7.7" fill="#ff5252"/>
<rect x="275.1" y="692.3" width="4" height="13.2" fill="#ff5252"/>
<rect x="279.9" y="692.3" width="4" height="16.5" fill="#ff5252"/>
<rect x="284.7" y="692.3" width="4" height="11.2" fill="#ffcdd2"/>
<rect x="289.5" y="692.3" width="4" height="6.7" fill="#ffcdd2"/>
<rect x="294.3" y="692.3" width="4" height="2.0" fill="#ffcdd2"/>
<rect x="299.1" y="687.9" width="4" height="4.4" fill="#26a69a"/>
<rect x="303.9" y="684.0" width="4" height="8.3" fill="#26a69a"/>
<rect x="308.7" y="684.0" width="4" height="8.3" fill="#26a69a"/>
<rect x="313.5" y="681.6" width="4" height="10.7" fill="#26a69a"/>
<rect x="318.3" y="683.6" width="4" height="8.7" fill="#b2dfdb"/>
<rect x="323.1" y="681.6" width="4" height="10.7" fill="#26a69a"/>
<rect x="327.9" y="677.7" width="4" height="14.6" fill="#26a69a"/>
<rect x="332.7" y="672.9" width="4" height="19.4" fill="#26a69a"/>
<rect x="337.5" y="666.4" width="4" height="25.9" fill="#26a69a"/>
<rect x="342.3" y="664.8" width="4" height="27.5" fill="#26a69a"/>
<rect x="347.1" y="662.1" width="4" height="30.2" fill="#26a69a"/>
<rect x="351.9" y="664.8" width="4" height="27.5" fill="#b2dfdb"/>
<rect x="356.7" y="672.9" width="4" height="19.4" fill="#b2dfdb"/>
<rect x="361.5" y="681.6" width="4" height="10.7" fill="#b2dfdb"/>
<rect x="366.3" y="687.3" width="4" height="5.0" fill="#b2dfdb"/>
<rect x="371.1" y="692.3" width="4" height="1.1" fill="#ff5252"/>
<rect x="375.9" y="692.3" width="4" height="9.3" fill="#ff5252"/>
<rect x="380.7" y="692.3" width="4" height="14.1" fill="#ff5252"/>
<rect x="385.5" y="692.3" width="4" height="9.7" fill="#ffcdd2"/>
<rect x="390.3" y="692.3" width="4" height="6.3" fill="#ffcdd2"/>
<rect x="395.1" y="692.3" width="4" height="6.3" fill="#ffcdd2"/>
<rect x="399.9" y="692.3" width="4" height="6.3" fill="#ffcdd2"/>
<rect x="404.7" y="692.3" width="4" height="8.3" fill="#ff5252"/>
<rect x="409.5" y="692.3" width="4" height="8.3" fill="#ff5252"/>
<rect x="414.3" y="692.3" width="4" height="11.6" fill="#ff5252"/>
<rect x="419.1" y="692.3" width="4" height="21.0" fill="#ff5252"/>
<rect x="423.9" y="692.3" width="4" height="25.9" fill="#ff5252"/>
<rect x="428.7" y="692.3" width="4" height="24.3" fill="#ffcdd2"/>
<rect x="433.5" y="692.3" width="4" height="24.9" fill="#ff5252"/>
<rect x="438.3" y="692.3" width="4" height="23.3" fill="#ffcdd2"/>
<rect x="443.1" y="692.3" width="4" height="21.4" fill="#ffcdd2"/>
<rect x="447.9" y="692.3" width="4" height="19.0" fill="#ffcdd2"/>
<rect x="452.7" y="692.3" width="4" height="14.7" fill="#ffcdd2"/>
<rect x="457.5" y="692.3" width="4" height="10.2" fill="#ffcdd2"/>
<rect x="462.3" y="691.6" width="4" height="0.7" fill="#26a69a"/>
<rect x="467.1" y="685.5" width="4" height="6.8" fill="#26a69a"/>
<rect x="471.9" y="684.0" width="4" height="8.3" fill="#26a69a"/>
<rect x="476.7" y="685.0" width="4" height="7.3" fill="#b2dfdb"/>
<rect x="481.5" y="691.2" width="4" height="1.1" fill="#b2dfdb"/>
<rect x="486.3" y="692.3" width="4" height="1.5" fill="#ff5252"/>
<rect x="491.1" y="692.3" width="4" height="5.0" fill="#ff5252"/>
<rect x="495.9" y="692.3" width="4" height="5.9" fill="#ff5252"/>
<rect x="500.7" y="692.3" width="4" height="1.8" fill="#ffcdd2"/>
<rect x="505.5" y="690.4" width="4" height="1.9" fill="#26a69a"/>
<rect x="510.3" y="688.9" width="4" height="3.4" fill="#26a69a"/>
<rect x="515.1" y="687.3" width="4" height="5.0" fill="#26a69a"/>
<rect x="519.9" y="689.5" width="4" height="2.8" fill="#b2dfdb"/>
<rect x="524.7" y="692.3" width="4" height="1.8" fill="#ff5252"/>
<rect x="529.5" y="692.3" width="4" height="8.3" fill="#ff5252"/>
<rect x="534.3" y="692.3" width="4" height="10.6" fill="#ff5252"/>
<rect x="539.1" y="692.3" width="4" height="9.7" fill="#ffcdd2"/>
<rect x="543.9" y="692.3" width="4" height="3.4" fill="#ffcdd2"/>
<rect x="548.7" y="688.9" width="4" height="3.4" fill="#26a69a"/>
<rect x="553.5" y="684.0" width="4" height="8.3" fill="#26a69a"/>
<rect x="558.3" y="680.1" width="4" height="12.2" fill="#26a69a"/>
<rect x="563.1" y="673.6" width="4" height="18.7" fill="#26a69a"/>
<rect x="567.9" y="669.3" width="4" height="23.0" fill="#26a69a"/>
<rect x="572.7" y="665.8" width="4" height="26.5" fill="#26a69a"/>
<rect x="577.5" y="664.1" width="4" height="28.2" fill="#26a69a"/>
<rect x="582.3" y="660.9" width="4" height="31.4" fill="#26a69a"/>
<rect x="587.1" y="662.5" width="4" height="29.8" fill="#b2dfdb"/>
<rect x="591.9" y="666.8" width="4" height="25.5" fill="#b2dfdb"/>
<rect x="596.7" y="672.3" width="4" height="20.0" fill="#b2dfdb"/>
<rect x="601.5" y="680.1" width="4" height="12.2" fill="#b2dfdb"/>
<rect x="606.3" y="685.0" width="4" height="7.3" fill="#b2dfdb"/>
<rect x="611.1" y="689.8" width="4" height="2.5" fill="#b2dfdb"/>
<rect x="615.9" y="683.4" width="4" height="8.9" fill="#26a69a"/>
<rect x="620.7" y="680.1" width="4" height="12.2" fill="#26a69a"/>
<rect x="625.5" y="678.5" width="4" height="13.8" fill="#26a69a"/>
<rect x="630.3" y="680.5" width="4" height="11.8" fill="#b2dfdb"/>
<rect x="635.1" y="685.0" width="4" height="7.3" fill="#b2dfdb"/>
<rect x="639.9" y="686.9" width="4" height="5.4" fill="#b2dfdb"/>
<rect x="644.7" y="683.4" width="4" height="8.9" fill="#26a69a"/>
<rect x="649.5" y="685.0" width="4" height="7.3" fill="#b2dfdb"/>
<rect x="654.3" y="688.3" width="4" height="4.0" fill="#b2dfdb"/>
<rect x="659.1" y="692.3" width="4" height="1.1" fill="#ff5252"/>
<rect x="663.9" y="692.3" width="4" height="5.0" fill="#ff5252"/>
<rect x="668.7" y="692.3" width="4" height="7.3" fill="#ff5252"/>
<rect x="673.5" y="692.3" width="4" height="7.3" fill="#ff5252"/>
<rect x="678.3" y="692.3" width="4" height="9.7" fill="#ff5252"/>
<rect x="683.1" y="692.3" width="4" height="5.0" fill="#ffcdd2"/>
<rect x="687.9" y="691.6" width="4" height="0.7" fill="#26a69a"/>
<rect x="692.7" y="681.6" width="4" height="10.7" fill="#26a69a"/>
<rect x="697.5" y="670.7" width="4" height="21.6" fill="#26a69a"/>
<rect x="702.3" y="653.1" width="4" height="39.2" fill="#26a69a"/>
<rect x="707.1" y="641.6" width="4" height="50.7" fill="#26a69a"/>
<rect x="711.9" y="637.7" width="4" height="54.6" fill="#26a69a"/>
<rect x="716.7" y="647.3" width="4" height="45.0" fill="#b2dfdb"/>
<rect x="721.5" y="651.2" width="4" height="41.1" fill="#b2dfdb"/>
<rect x="726.3" y="659.2" width="4" height="33.1" fill="#b2dfdb"/>
<rect x="731.1" y="673.6" width="4" height="18.7" fill="#b2dfdb"/>
<rect x="735.9" y="677.1" width="4" height="15.2" fill="#b2dfdb"/>
<rect x="740.7" y="674.6" width="4" height="17.7" fill="#26a69a"/>
<rect x="745.5" y="669.7" width="4" height="22.6" fill="#26a69a"/>
<rect x="750.3" y="672.9" width="4" height="19.4" fill="#b2dfdb"/>
<rect x="755.1" y="679.1" width="4" height="13.2" fill="#b2dfdb"/>
<rect x="759.9" y="684.0" width="4" height="8.3" fill="#b2dfdb"/>
<rect x="764.7" y="692.3" width="4" height="1.1" fill="#ff5252"/>
<rect x="769.5" y="692.3" width="4" height="7.3" fill="#ff5252"/>
<rect x="774.3" y="692.3" width="4" height="9.3" fill="#ff5252"/>
<rect x="779.1" y="692.3" width="4" height="13.8" fill="#ff5252"/>
<rect x="783.9" y="692.3" width="4" height="10.6" fill="#ffcdd2"/>
<rect x="788.7" y="692.3" width="4" height="11.2" fill="#ff5252"/>
<rect x="793.5" y="692.3" width="4" height="12.2" fill="#ff5252"/>
<rect x="798.3" y="692.3" width="4" height="21.0" fill="#ff5252"/>
<rect x="803.1" y="692.3" width="4" height="22.5" fill="#ff5252"/>
<rect x="807.9" y="692.3" width="4" height="30.7" fill="#ff5252"/>
<rect x="812.7" y="692.3" width="4" height="33.3" fill="#ff5252"/>
<rect x="817.5" y="692.3" width="4" height="24.3" fill="#ffcdd2"/>
<rect x="822.3" y="692.3" width="4" height="15.1" fill="#ffcdd2"/>
<rect x="827.1" y="692.3" width="4" height="17.7" fill="#ff5252"/>
<rect x="831.9" y="692.3" width="4" height="29.2" fill="#ff5252"/>
<rect x="836.7" y="692.3" width="4" height="22.5" fill="#ffcdd2"/>
<rect x="841.5" y="692.3" width="4" height="26.5" fill="#ff5252"/>
<rect x="846.3" y="692.3" width="4" height="21.6" fill="#ffcdd2"/>
<rect x="851.1" y="692.3" width="4" height="25.9" fill="#ff5252"/>
<rect x="855.9" y="692.3" width="4" height="29.8" fill="#ff5252"/>
<rect x="860.7" y="692.3" width="4" height="31.7" fill="#ff5252"/>
<path d="M-2.0,629.3 L3.5,625.8 L8.4,629.3 L13.1,635.2 L18.0,640.0 L25.4,642.6 L32.2,646.9 L36.9,640.6 L41.8,642.6 L46.9,646.5 L51.6,648.4 L56.4,650.8 L61.1,649.8 L66.0,645.3 L70.7,641.4 L75.6,640.6 L80.3,636.5 L85.0,636.5 L89.8,633.2 L94.9,637.5 L99.6,642.0 L104.5,643.0 L109.2,648.8 L113.9,655.7 L118.8,657.0 L123.4,655.3 L128.3,651.2 L133.0,647.9 L137.9,641.4 L142.6,636.1 L147.5,634.6 L152.1,636.7 L156.8,641.0 L161.7,644.9 L166.6,641.4 L171.5,641.4 L176.2,648.4 L181.1,654.3 L185.7,662.5 L190.6,668.8 L195.5,667.4 L200.2,660.9 L205.0,657.0 L209.9,658.2 L214.6,666.4 L219.5,682.0 L224.2,695.7 L229.1,702.5 L233.9,704.5 L238.6,701.6 L243.3,698.2 L248.2,696.1 L252.9,692.8 L257.8,689.3 L262.7,691.4 L267.5,693.4 L272.2,701.6 L277.1,709.4 L281.8,716.2 L286.7,713.3 L291.4,710.0 L296.2,706.4 L300.9,699.6 L305.8,693.4 L310.5,690.8 L315.4,686.9 L320.1,684.4 L325.0,681.6 L329.8,674.2 L334.5,662.5 L339.4,649.8 L344.1,640.6 L349.0,631.2 L353.9,628.3 L358.6,632.2 L363.4,637.5 L368.1,641.4 L373.0,646.9 L377.7,657.6 L382.6,666.4 L387.4,664.1 L392.3,662.5 L397.0,664.1 L401.9,665.4 L406.8,668.8 L411.4,671.9 L416.3,678.1 L421.0,691.8 L425.9,703.5 L430.8,711.3 L435.5,716.2 L440.4,720.1 L445.0,723.0 L449.9,725.0 L454.6,723.6 L459.5,722.1 L464.2,710.4 L469.1,703.5 L473.8,700.0 L478.6,699.0 L483.5,704.9 L488.2,708.4 L493.1,712.3 L497.8,713.9 L502.7,711.3 L507.3,706.4 L512.2,704.1 L517.1,701.6 L521.8,702.5 L526.7,709.4 L531.4,716.8 L536.2,721.1 L540.9,722.1 L545.8,717.2 L550.7,709.4 L555.4,701.6 L560.3,693.8 L565.0,682.0 L569.8,671.3 L574.5,661.5 L579.2,652.3 L584.1,643.0 L588.9,637.1 L593.6,635.2 L598.5,636.7 L603.2,641.0 L608.1,644.9 L613.0,648.4 L617.7,640.0 L622.5,632.2 L627.2,628.3 L632.1,627.3 L637.0,629.7 L641.7,629.9 L646.6,625.0 L651.2,624.0 L656.1,627.3 L660.8,632.2 L665.7,637.1 L670.6,641.0 L675.3,643.0 L680.2,646.9 L684.8,643.4 L689.7,636.1 L694.6,621.5 L699.3,605.6 L704.2,581.2 L709.1,555.8 L713.8,540.2 L718.7,538.2 L723.6,531.8 L728.2,531.8 L733.1,542.1 L737.8,541.1 L742.7,533.3 L747.6,523.6 L752.3,522.2 L757.1,525.5 L761.8,528.8 L766.7,538.2 L771.4,545.0 L776.3,549.5 L781.2,557.1 L785.9,556.4 L790.7,559.7 L795.4,563.6 L800.3,577.3 L805.2,584.7 L809.9,598.8 L814.8,610.1 L819.5,607.0 L824.3,602.7 L829.0,609.5 L833.9,627.1 L838.8,626.5 L843.5,636.8 L848.4,638.2 L853.1,647.9 L858.0,658.6 L862.7,668.4" fill="none" stroke="#4aa8f5" stroke-width="0.9" stroke-linejoin="round"/>
<path d="M-2.0,637.7 C-1.6,637.6 -1.3,637.6 0.0,637.1 C1.3,636.6 3.7,635.0 5.9,634.6 C8.0,634.1 10.8,634.3 13.1,634.6 C15.4,634.8 17.2,635.5 19.5,636.1 C21.9,636.7 24.4,637.4 27.3,638.1 C30.2,638.7 33.7,639.4 36.9,640.0 C40.2,640.7 43.6,641.2 46.9,642.0 C50.1,642.8 53.3,644.3 56.4,644.9 C59.6,645.6 62.8,646.1 66.0,645.9 C69.2,645.7 72.4,644.7 75.6,643.9 C78.7,643.2 81.7,642.1 85.0,641.4 C88.2,640.7 91.7,639.8 94.9,639.6 C98.2,639.5 101.3,639.8 104.5,640.6 C107.6,641.4 110.7,643.2 113.9,644.5 C117.0,645.8 120.2,647.7 123.4,648.4 C126.6,649.2 129.8,649.6 133.0,649.2 C136.2,648.8 139.4,647.0 142.6,645.9 C145.8,644.8 149.0,643.3 152.1,642.6 C155.3,641.9 158.5,641.7 161.7,641.6 C164.9,641.5 168.3,641.3 171.5,642.0 C174.7,642.7 177.9,644.2 181.1,645.9 C184.2,647.6 188.2,650.7 190.6,652.3 C193.0,654.0 193.9,654.9 195.5,655.7 C197.1,656.4 198.6,656.8 200.2,657.0 C201.8,657.3 203.4,657.0 205.0,657.0 C206.7,657.0 208.3,656.8 209.9,657.0 C211.5,657.3 213.0,657.4 214.6,658.6 C216.2,659.8 217.9,662.3 219.5,664.5 C221.1,666.6 222.6,669.0 224.2,671.3 C225.8,673.6 227.4,676.1 229.1,678.1 C230.7,680.2 232.4,682.0 233.9,683.6 C235.5,685.2 237.1,686.5 238.6,687.5 C240.2,688.5 241.7,689.0 243.3,689.5 C244.9,689.9 246.6,690.1 248.2,690.2 C249.8,690.4 251.3,690.4 252.9,690.4 C254.5,690.4 256.1,690.2 257.8,690.2 C259.4,690.2 261.0,690.2 262.7,690.4 C264.3,690.6 265.9,690.9 267.5,691.4 C269.1,692.0 270.6,692.8 272.2,693.8 C273.8,694.7 275.5,695.9 277.1,697.1 C278.7,698.2 280.2,699.6 281.8,700.6 C283.4,701.6 285.1,702.5 286.7,703.1 C288.3,703.8 289.8,704.2 291.4,704.5 C293.0,704.8 294.7,705.0 296.2,704.9 C297.8,704.7 299.3,704.2 300.9,703.5 C302.5,702.9 304.2,701.8 305.8,701.0 C307.4,700.2 308.9,699.5 310.5,698.6 C312.1,697.8 313.8,696.6 315.4,695.7 C317.0,694.8 318.5,694.2 320.1,693.4 C321.7,692.5 323.3,691.8 325.0,690.8 C326.6,689.8 328.2,688.8 329.8,687.3 C331.4,685.8 332.9,684.0 334.5,682.0 C336.1,680.0 337.8,677.6 339.4,675.2 C341.0,672.8 342.5,670.0 344.1,667.4 C345.7,664.8 347.4,662.0 349.0,659.6 C350.6,657.1 352.3,654.5 353.9,652.7 C355.5,650.9 357.0,649.8 358.6,648.8 C360.1,647.9 361.8,647.3 363.4,646.9 C365.0,646.5 366.5,646.5 368.1,646.5 C369.7,646.5 371.4,646.3 373.0,646.9 C374.6,647.4 376.1,648.8 377.7,649.8 C379.3,650.8 381.0,652.3 382.6,653.1 C384.2,653.9 385.0,653.9 387.4,654.7 C389.8,655.5 393.8,656.8 397.0,658.0 C400.2,659.2 403.5,660.7 406.8,662.1 C410.0,663.5 414.0,664.7 416.3,666.4 C418.7,668.1 419.4,670.1 421.0,672.3 C422.6,674.4 424.3,676.8 425.9,679.1 C427.5,681.4 429.2,683.8 430.8,685.9 C432.4,688.1 433.9,689.8 435.5,691.8 C437.1,693.8 438.8,695.8 440.4,697.7 C441.9,699.5 443.4,701.5 445.0,703.1 C446.6,704.8 448.3,706.2 449.9,707.4 C451.5,708.6 453.0,709.6 454.6,710.4 C456.2,711.1 457.9,711.7 459.5,711.9 C461.1,712.1 462.6,712.1 464.2,711.7 C465.8,711.3 467.5,710.1 469.1,709.4 C470.7,708.7 472.2,708.0 473.8,707.4 C475.3,706.9 477.0,706.3 478.6,706.1 C480.3,705.8 481.9,705.9 483.5,706.1 C485.1,706.2 486.6,706.5 488.2,706.8 C489.8,707.1 491.5,707.5 493.1,707.8 C494.7,708.1 496.2,708.6 497.8,708.8 C499.4,709.0 501.1,709.1 502.7,709.0 C504.3,708.9 505.7,708.3 507.3,708.0 C508.9,707.7 510.6,707.4 512.2,707.0 C513.9,706.7 515.5,706.2 517.1,706.1 C518.7,705.9 520.2,705.7 521.8,705.9 C523.4,706.0 525.1,706.2 526.7,706.8 C528.3,707.4 529.8,708.6 531.4,709.4 C533.0,710.2 534.7,711.1 536.2,711.7 C537.8,712.4 539.3,713.0 540.9,713.3 C542.5,713.6 544.2,713.7 545.8,713.7 C547.4,713.6 549.1,713.4 550.7,712.9 C552.3,712.3 553.8,711.3 555.4,710.4 C557.0,709.4 558.7,708.4 560.3,707.0 C561.9,705.6 563.4,703.8 565.0,702.0 C566.6,700.1 568.3,697.9 569.8,695.7 C571.4,693.5 572.9,691.1 574.5,688.9 C576.0,686.6 577.6,684.5 579.2,682.0 C580.8,679.6 582.4,676.8 584.1,674.2 C585.7,671.6 587.4,668.7 588.9,666.4 C590.5,664.1 592.0,662.3 593.6,660.5 C595.2,658.8 596.9,657.0 598.5,655.7 C600.1,654.4 601.6,653.5 603.2,652.7 C604.8,652.0 606.5,651.7 608.1,651.4 C609.7,651.0 611.4,651.3 613.0,650.8 C614.6,650.3 616.1,649.4 617.7,648.4 C619.3,647.5 620.9,646.1 622.5,644.9 C624.1,643.8 625.6,642.5 627.2,641.4 C628.8,640.3 630.5,639.3 632.1,638.5 C633.7,637.7 635.4,637.1 637.0,636.5 C638.6,636.0 640.1,635.7 641.7,635.2 C643.3,634.6 645.0,633.9 646.6,633.2 C648.2,632.6 649.7,631.7 651.2,631.2 C652.8,630.8 654.5,630.7 656.1,630.7 C657.7,630.6 659.2,630.6 660.8,630.9 C662.4,631.1 664.1,631.7 665.7,632.2 C667.3,632.8 669.0,633.5 670.6,634.2 C672.2,634.8 673.7,635.5 675.3,636.1 C676.9,636.8 678.6,637.6 680.2,638.1 C681.8,638.6 683.2,639.0 684.8,639.1 C686.4,639.2 688.1,639.3 689.7,638.7 C691.4,638.0 693.0,636.6 694.6,635.2 C696.2,633.7 697.7,632.6 699.3,630.0 C700.9,627.4 702.6,623.2 704.2,619.3 C705.8,615.4 707.5,610.8 709.1,606.6 C710.7,602.3 712.2,597.9 713.8,593.9 C715.4,589.8 717.0,585.9 718.7,582.1 C720.3,578.4 722.0,574.3 723.6,571.4 C725.1,568.5 726.6,566.5 728.2,564.6 C729.8,562.6 731.5,561.1 733.1,559.7 C734.7,558.3 736.2,557.5 737.8,556.2 C739.4,554.9 741.1,553.5 742.7,551.9 C744.3,550.2 746.0,548.1 747.6,546.4 C749.2,544.7 750.7,543.1 752.3,541.7 C753.9,540.4 755.6,539.1 757.1,538.2 C758.7,537.3 760.2,536.5 761.8,536.2 C763.4,536.0 765.1,536.3 766.7,536.6 C768.3,537.0 769.8,537.6 771.4,538.2 C773.0,538.9 774.7,539.6 776.3,540.5 C777.9,541.5 779.6,543.1 781.2,544.1 C782.8,545.1 784.3,545.7 785.9,546.6 C787.5,547.5 789.1,548.5 790.7,549.3 C792.3,550.2 793.8,550.6 795.4,551.9 C797.0,553.1 798.7,555.0 800.3,556.8 C801.9,558.5 803.6,560.3 805.2,562.6 C806.8,564.9 808.3,567.8 809.9,570.4 C811.5,573.0 813.2,576.0 814.8,578.2 C816.4,580.5 817.9,582.5 819.5,584.1 C821.0,585.7 822.7,586.7 824.3,588.0 C825.9,589.3 827.4,590.1 829.0,591.9 C830.6,593.7 832.3,596.6 833.9,598.8 C835.5,600.9 837.2,602.6 838.8,604.6 C840.4,606.7 841.9,609.0 843.5,611.1 C845.1,613.1 846.8,614.7 848.4,616.7 C850.0,618.7 851.5,620.8 853.0,623.2 C854.6,625.5 856.3,628.4 857.9,631.0 C859.6,633.5 862.0,637.2 862.8,638.4" fill="none" stroke="#f4447f" stroke-width="1.7" stroke-linecap="round"/>
</g>
<g fill="#20232b" stroke="#20232b" stroke-width="0.22">
<text x="979" y="466.5" textLength="32.2" lengthAdjust="spacingAndGlyphs">0.61000</text>
<text x="979" y="430.0" textLength="32.2" lengthAdjust="spacingAndGlyphs">0.62000</text>
<text x="979" y="393.5" textLength="32.2" lengthAdjust="spacingAndGlyphs">0.63000</text>
<text x="979" y="357.0" textLength="32.2" lengthAdjust="spacingAndGlyphs">0.64000</text>
<text x="979" y="320.5" textLength="32.2" lengthAdjust="spacingAndGlyphs">0.65000</text>
<text x="979" y="284.0" textLength="32.2" lengthAdjust="spacingAndGlyphs">0.66000</text>
<text x="979" y="247.5" textLength="32.2" lengthAdjust="spacingAndGlyphs">0.67000</text>
<text x="979" y="211.0" textLength="32.2" lengthAdjust="spacingAndGlyphs">0.68000</text>
<text x="979" y="174.5" textLength="32.2" lengthAdjust="spacingAndGlyphs">0.69000</text>
<text x="979" y="65.0" textLength="32.2" lengthAdjust="spacingAndGlyphs">0.72000</text>
<text x="979" y="28.5" textLength="32.2" lengthAdjust="spacingAndGlyphs">0.73000</text>
<text x="979" y="696.1" textLength="32.2" lengthAdjust="spacingAndGlyphs">0.00000</text>
<text x="979" y="664.2" textLength="32.2" lengthAdjust="spacingAndGlyphs">0.00200</text>
<text x="979" y="632.3" textLength="32.2" lengthAdjust="spacingAndGlyphs">0.00400</text>
<text x="979" y="600.5" textLength="32.2" lengthAdjust="spacingAndGlyphs">0.00600</text>
<text x="979" y="568.6" textLength="32.2" lengthAdjust="spacingAndGlyphs">0.00800</text>
<text x="979" y="536.7" textLength="32.2" lengthAdjust="spacingAndGlyphs">0.01000</text>
<text x="979" y="504.8" textLength="32.2" lengthAdjust="spacingAndGlyphs">0.01200</text>
</g>
<path d="M971,70.3 H1014.3 Q1016,70.3 1016,72.0 V82.1 Q1016,83.8 1014.3,83.8 H971 Z" fill="#2196f3"/>
<text x="979" y="80.5" fill="#fff" stroke="#fff" stroke-width="0.25" textLength="32.2" lengthAdjust="spacingAndGlyphs">0.71573</text>
<path d="M971,94.7 H1014.3 Q1016,94.7 1016,96.4 V106.39999999999999 Q1016,108.1 1014.3,108.1 H971 Z" fill="#33a2e6"/>
<text x="979" y="104.9" fill="#fff" stroke="#fff" stroke-width="0.25" textLength="32.2" lengthAdjust="spacingAndGlyphs">0.70606</text>
<path d="M971,108.1 H1014.3 Q1016,108.1 1016,109.8 V119.7 Q1016,121.4 1014.3,121.4 H971 Z" fill="#f7b731"/>
<text x="979" y="118.2" fill="#131722" stroke="#131722" stroke-width="0.25" textLength="32.2" lengthAdjust="spacingAndGlyphs">0.70544</text>
<path d="M971,130.3 H1014.3 Q1016,130.3 1016,132.0 V142.20000000000002 Q1016,143.9 1014.3,143.9 H971 Z" fill="#808080"/>
<text x="979" y="140.6" fill="#fff" stroke="#fff" stroke-width="0.25" textLength="32.2" lengthAdjust="spacingAndGlyphs">0.69939</text>
<path d="M971,143.9 H1014.3 Q1016,143.9 1016,145.6 V155.5 Q1016,157.2 1014.3,157.2 H971 Z" fill="#2196f3"/>
<text x="979" y="154.1" fill="#fff" stroke="#fff" stroke-width="0.25" textLength="32.2" lengthAdjust="spacingAndGlyphs">0.69640</text>
<path d="M971,157.2 H1014.3 Q1016,157.2 1016,158.89999999999998 V169.3 Q1016,171 1014.3,171 H971 Z" fill="#e0780a"/>
<text x="979" y="167.6" fill="#fff" stroke="#fff" stroke-width="0.25" textLength="32.2" lengthAdjust="spacingAndGlyphs">0.69458</text>
<path d="M971,631.5 H1014.3 Q1016,631.5 1016,633.2 V642.6999999999999 Q1016,644.4 1014.3,644.4 H971 Z" fill="#f4447f"/>
<text x="979" y="641.5" fill="#fff" stroke="#fff" stroke-width="0.25" textLength="32.2" lengthAdjust="spacingAndGlyphs">0.00342</text>
<path d="M971,663.2 H1014.3 Q1016,663.2 1016,664.9000000000001 V673.9 Q1016,675.6 1014.3,675.6 H971 Z" fill="#2196f3"/>
<text x="979" y="672.9" fill="#fff" stroke="#fff" stroke-width="0.25" textLength="32.2" lengthAdjust="spacingAndGlyphs">0.00149</text>
<path d="M971,717.7 H1018.3 Q1020,717.7 1020,719.4000000000001 V729.3 Q1020,731 1018.3,731 H971 Z" fill="#ff5252"/>
<text x="979" y="727.9" fill="#fff" stroke="#fff" stroke-width="0.25" textLength="37.2" lengthAdjust="spacingAndGlyphs">−0.00193</text>
<rect x="0" y="0" width="1024" height="25" fill="#fff"/>
<text x="8" y="15.6" font-weight="bold" font-size="9.6" fill="#131722">AUDUSD 1D - 1uptick.com</text>
<text x="7.5" y="35.8" fill="#2a2e39" stroke="#2a2e39" stroke-width="0.2" font-size="9.9" textLength="12.5" lengthAdjust="spacingAndGlyphs">BB</text>
<text x="22.5" y="35.8" fill="#6f727b" stroke="#6f727b" stroke-width="0.2" font-size="9.9" textLength="19.3" lengthAdjust="spacingAndGlyphs">20 2</text>
<text x="53.8" y="35.8" fill="#42a5f5" stroke="#42a5f5" stroke-width="0.2" font-size="9.9" textLength="37.2" lengthAdjust="spacingAndGlyphs">0.70606</text>
<text x="96.3" y="35.8" fill="#42a5f5" stroke="#42a5f5" stroke-width="0.2" font-size="9.9" textLength="36.8" lengthAdjust="spacingAndGlyphs">0.71573</text>
<text x="138.3" y="35.8" fill="#42a5f5" stroke="#42a5f5" stroke-width="0.2" font-size="9.9" textLength="37.5" lengthAdjust="spacingAndGlyphs">0.69640</text>
<text x="7.5" y="55" fill="#2a2e39" stroke="#2a2e39" stroke-width="0.2" font-size="9.9" textLength="12.5" lengthAdjust="spacingAndGlyphs">MA</text>
<text x="24.3" y="55" fill="#6f727b" stroke="#6f727b" stroke-width="0.2" font-size="9.9" textLength="75" lengthAdjust="spacingAndGlyphs">10 close 0 SMA 9</text>
<text x="111.3" y="55" fill="#f9b84a" stroke="#f9b84a" stroke-width="0.2" font-size="9.9" textLength="37.2" lengthAdjust="spacingAndGlyphs">0.70544</text>
<text x="7.5" y="74.2" fill="#2a2e39" stroke="#2a2e39" stroke-width="0.2" font-size="9.9" textLength="12.5" lengthAdjust="spacingAndGlyphs">MA</text>
<text x="24.3" y="74.2" fill="#6f727b" stroke="#6f727b" stroke-width="0.2" font-size="9.9" textLength="75" lengthAdjust="spacingAndGlyphs">50 close 0 SMA 9</text>
<text x="111.3" y="74.2" fill="#ea8a2c" stroke="#ea8a2c" stroke-width="0.2" font-size="9.9" textLength="37.2" lengthAdjust="spacingAndGlyphs">0.69458</text>
<text x="7.5" y="514.5" fill="#2a2e39" stroke="#2a2e39" stroke-width="0.2" font-size="9.9" textLength="25.5" lengthAdjust="spacingAndGlyphs">MACD</text>
<text x="37.5" y="514.5" fill="#6f727b" stroke="#6f727b" stroke-width="0.2" font-size="9.9" textLength="59.5" lengthAdjust="spacingAndGlyphs">12 26 close 9</text>
<text x="109.3" y="514.5" fill="#ff6b6b" stroke="#ff6b6b" stroke-width="0.2" font-size="9.9" textLength="42" lengthAdjust="spacingAndGlyphs">−0.00193</text>
<text x="157" y="514.5" fill="#42a5f5" stroke="#42a5f5" stroke-width="0.2" font-size="9.9" textLength="36.8" lengthAdjust="spacingAndGlyphs">0.00149</text>
<text x="199.3" y="514.5" fill="#f6659a" stroke="#f6659a" stroke-width="0.2" font-size="9.9" textLength="36.5" lengthAdjust="spacingAndGlyphs">0.00342</text>
<rect x="7.6" y="81.9" width="22.4" height="16" rx="2.4" fill="#fff" stroke="#d8dae0" stroke-width="0.8"/>
<path d="M16,91.3 L18.8,88.6 L21.6,91.3" fill="none" stroke="#2a2e39" stroke-width="1.1"/>
<rect x="0" y="745.5" width="1024" height="23" fill="#fff"/>
<text x="61.1" y="760" text-anchor="middle" fill="#20232b" stroke="#20232b" stroke-width="0.2" font-size="9.5">Jun</text>
<text x="142.7" y="760" text-anchor="middle" fill="#20232b" stroke="#20232b" stroke-width="0.2" font-size="9.5">Jul</text>
<text x="233.9" y="760" text-anchor="middle" fill="#20232b" stroke="#20232b" stroke-width="0.2" font-size="9.5">Aug</text>
<text x="310.7" y="760" text-anchor="middle" fill="#20232b" stroke="#20232b" stroke-width="0.2" font-size="9.5">Sep</text>
<text x="397.1" y="760" text-anchor="middle" fill="#20232b" stroke="#20232b" stroke-width="0.2" font-size="9.5">Oct</text>
<text x="483.5" y="760" text-anchor="middle" fill="#20232b" stroke="#20232b" stroke-width="0.2" font-size="9.5">Nov</text>
<text x="560.3" y="760" text-anchor="middle" fill="#20232b" stroke="#20232b" stroke-width="0.2" font-size="9.5">Dec</text>
<text x="641.9" y="760" text-anchor="middle" fill="#20232b" stroke="#20232b" stroke-width="0.2" font-size="9.5" font-weight="bold">2026</text>
<text x="723.5" y="760" text-anchor="middle" fill="#20232b" stroke="#20232b" stroke-width="0.2" font-size="9.5">Feb</text>
<text x="800.3" y="760" text-anchor="middle" fill="#20232b" stroke="#20232b" stroke-width="0.2" font-size="9.5">Mar</text>
<text x="891.5" y="760" text-anchor="middle" fill="#20232b" stroke="#20232b" stroke-width="0.2" font-size="9.5">Apr</text>
<text x="958.7" y="760" text-anchor="middle" fill="#20232b" stroke="#20232b" stroke-width="0.2" font-size="9.5">21</text>
<path d="M997.80,750.90 L999.48,753.03 L1002.18,752.72 L1001.87,755.42 L1004.00,757.10 L1001.87,758.78 L1002.18,761.48 L999.48,761.17 L997.80,763.30 L996.12,761.17 L993.42,761.48 L993.73,758.78 L991.60,757.10 L993.73,755.42 L993.42,752.72 L996.12,753.03 Z M1001.20,757.10 A3.4,3.4 0 1 0 994.40,757.10 A3.4,3.4 0 1 0 1001.20,757.10 Z" fill="#3c404a" fill-rule="evenodd"/>
<circle cx="19" cy="728" r="13.3" fill="#fff" stroke="#ebecee" stroke-width="0.9"/>
<path d="M10.2,724 H16.9 V732.7 H14 V727 H10.2 Z M18.65,725.5 a1.4,1.4 0 1 0 2.8,0 a1.4,1.4 0 1 0 -2.8,0 Z M23.7,724 H27.3 L23.9,732.7 H20.1 Z" fill="#131722"/>
</svg>
</body></html>
